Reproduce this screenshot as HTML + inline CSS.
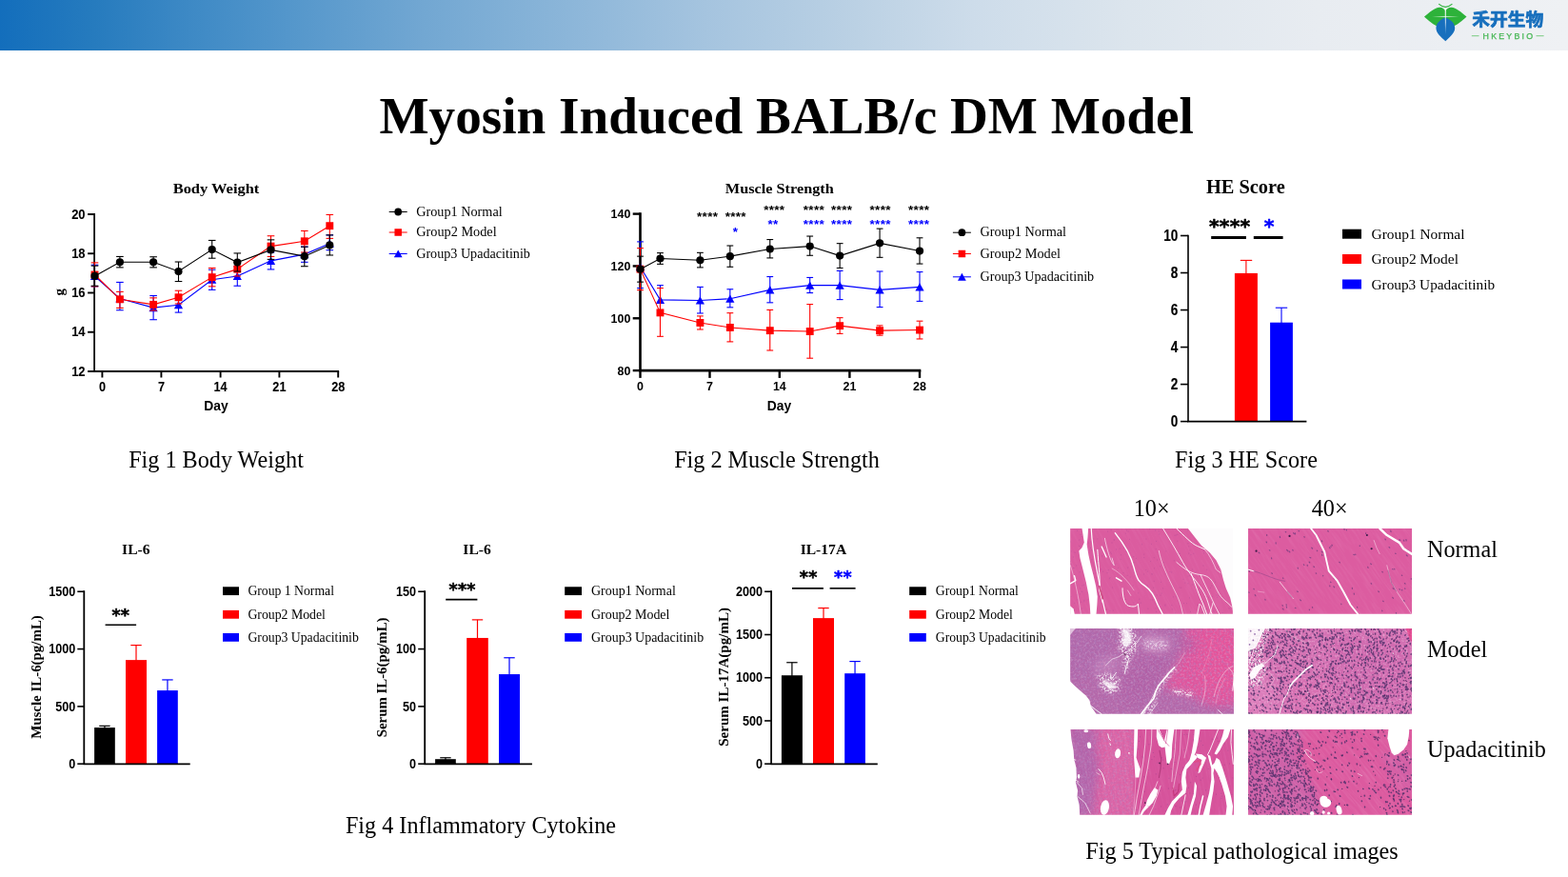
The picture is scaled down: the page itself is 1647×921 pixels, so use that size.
<!DOCTYPE html>
<html lang="en"><head><meta charset="utf-8"><title>Myosin Induced BALB/c DM Model</title>
<style>
html,body{margin:0;padding:0;background:#fff;}
body{width:1647px;height:921px;position:relative;overflow:hidden;font-family:"Liberation Serif","Noto Serif CJK SC",serif;color:#000;}
.hdr{position:absolute;left:0;top:0;width:1647px;height:53px;background:linear-gradient(90deg,#136ebc 0%,#267bbe 6%,#3d89c5 12%,#5396cb 18.2%,#72a7d2 27%,#8cb6d9 36.4%,#a5c4df 45%,#bbd1e4 54.6%,#cddcea 62%,#dce5ed 72%,#e8ecf1 84%,#eff1f4 100%);}
.title{position:absolute;left:0;top:90px;width:1652.4px;text-align:center;font-weight:bold;font-size:55.2px;line-height:64px;white-space:nowrap;}
.cap{position:absolute;font-size:24.2px;line-height:28px;white-space:nowrap;transform:translateX(-50%);}
.lab{position:absolute;font-size:24.2px;line-height:28px;white-space:nowrap;}
svg{position:absolute;left:0;top:0;}
.fs{font-family:"Liberation Serif","Noto Serif CJK SC",serif;}
.fa{font-family:"Liberation Sans","Noto Sans CJK SC",sans-serif;}
.fd{font-family:"DejaVu Sans","Liberation Sans",sans-serif;}
</style></head>
<body>
<div class="hdr"></div>
<div class="title">Myosin Induced BALB/c DM Model</div>
<svg width="1647" height="921" viewBox="0 0 1647 921">
<g>
<path d="M1496 17.6 C1502 12.5 1507 8.2 1512 7.8 C1515.2 7.6 1517 9.5 1518.3 11.5 C1519.6 9.5 1521.4 7.6 1524.6 7.8 C1529.5 8.2 1534.5 12.5 1540.5 17.6 C1535.5 22 1531 26 1527.5 27.2 L1509 27.2 C1505.5 26 1501 22 1496 17.6Z" fill="#2db23a"/>
<path d="M1518.3 18.5 C1524 20.5 1528.2 24.5 1528.2 29.5 C1528.2 34.5 1523 39 1518.3 43.2 C1513.6 39 1508.4 34.5 1508.4 29.5 C1508.4 24.5 1512.6 20.5 1518.3 18.5Z" fill="#176fbd"/>
<path d="M1511.2 4.2 Q1518.3 10.6 1525.4 4.2" fill="none" stroke="#2db23a" stroke-width="1.1"/>
<defs><linearGradient id="lgv" x1="0" y1="0" x2="0" y2="1"><stop offset="0" stop-color="#fff" stop-opacity="1"/><stop offset="0.55" stop-color="#fff" stop-opacity="0.85"/><stop offset="1" stop-color="#fff" stop-opacity="0"/></linearGradient>
<radialGradient id="lgh" cx="0.5" cy="0.5" r="0.5"><stop offset="0" stop-color="#fff" stop-opacity="0.85"/><stop offset="1" stop-color="#fff" stop-opacity="0"/></radialGradient></defs>
<path d="M1517.7 8.5 L1518.9 8.5 L1518.6 36 L1518 36Z" fill="url(#lgv)"/>
<ellipse cx="1518.3" cy="17.3" rx="15" ry="0.9" fill="url(#lgh)"/>
<text x="1546.2" y="27.2" font-size="18.6" font-weight="bold" fill="#176fbd" stroke="#176fbd" stroke-width="0.7" stroke-linejoin="round" textLength="75" lengthAdjust="spacingAndGlyphs" style="font-family:'Liberation Sans','Noto Sans CJK SC',sans-serif">禾开生物</text>
<text x="1583.8" y="40.9" font-size="8.8" fill="#45b653" stroke="#45b653" stroke-width="0.25" text-anchor="middle" textLength="52.5" lengthAdjust="spacing" style="font-family:'Liberation Sans','Noto Sans CJK SC',sans-serif">HKEYBIO</text>
<path d="M1545.8 37.7 H1553.5 M1613.5 37.7 H1621.6" stroke="#6cc774" stroke-width="0.9"/>
</g>
<text class="fs" x="227.0" y="202.6" font-size="15.6" text-anchor="middle" font-weight="bold" fill="#000" textLength="90.6" lengthAdjust="spacingAndGlyphs">Body Weight</text>
<path d="M99.1 225.0V390.0H355.2" fill="none" stroke="#000" stroke-width="1.8" stroke-linecap="square"/>
<line x1="92.10" y1="225.00" x2="99.10" y2="225.00" stroke="#000" stroke-width="1.9"/>
<text class="fa" transform="translate(89.6,229.5) scale(0.89,1)" font-size="14.6" text-anchor="end" font-weight="bold" stroke="#000" stroke-width="0.06">20</text>
<line x1="92.10" y1="266.25" x2="99.10" y2="266.25" stroke="#000" stroke-width="1.9"/>
<text class="fa" transform="translate(89.6,270.8) scale(0.89,1)" font-size="14.6" text-anchor="end" font-weight="bold" stroke="#000" stroke-width="0.06">18</text>
<line x1="92.10" y1="307.50" x2="99.10" y2="307.50" stroke="#000" stroke-width="1.9"/>
<text class="fa" transform="translate(89.6,312.0) scale(0.89,1)" font-size="14.6" text-anchor="end" font-weight="bold" stroke="#000" stroke-width="0.06">16</text>
<line x1="92.10" y1="348.75" x2="99.10" y2="348.75" stroke="#000" stroke-width="1.9"/>
<text class="fa" transform="translate(89.6,353.2) scale(0.89,1)" font-size="14.6" text-anchor="end" font-weight="bold" stroke="#000" stroke-width="0.06">14</text>
<line x1="92.10" y1="390.00" x2="99.10" y2="390.00" stroke="#000" stroke-width="1.9"/>
<text class="fa" transform="translate(89.6,394.5) scale(0.89,1)" font-size="14.6" text-anchor="end" font-weight="bold" stroke="#000" stroke-width="0.06">12</text>
<line x1="107.40" y1="390.00" x2="107.40" y2="396.50" stroke="#000" stroke-width="1.9"/>
<text class="fa" transform="translate(107.4,410.6) scale(0.87,1)" font-size="14.6" text-anchor="middle" font-weight="bold" stroke="#000" stroke-width="0.08">0</text>
<line x1="169.40" y1="390.00" x2="169.40" y2="396.50" stroke="#000" stroke-width="1.9"/>
<text class="fa" transform="translate(169.4,410.6) scale(0.87,1)" font-size="14.6" text-anchor="middle" font-weight="bold" stroke="#000" stroke-width="0.08">7</text>
<line x1="231.60" y1="390.00" x2="231.60" y2="396.50" stroke="#000" stroke-width="1.9"/>
<text class="fa" transform="translate(231.6,410.6) scale(0.87,1)" font-size="14.6" text-anchor="middle" font-weight="bold" stroke="#000" stroke-width="0.08">14</text>
<line x1="293.40" y1="390.00" x2="293.40" y2="396.50" stroke="#000" stroke-width="1.9"/>
<text class="fa" transform="translate(293.4,410.6) scale(0.87,1)" font-size="14.6" text-anchor="middle" font-weight="bold" stroke="#000" stroke-width="0.08">21</text>
<line x1="355.20" y1="390.00" x2="355.20" y2="396.50" stroke="#000" stroke-width="1.9"/>
<text class="fa" transform="translate(355.2,410.6) scale(0.87,1)" font-size="14.6" text-anchor="middle" font-weight="bold" stroke="#000" stroke-width="0.08">28</text>
<text class="fa" x="227.0" y="430.6" font-size="13.8" text-anchor="middle" font-weight="bold" fill="#000">Day</text>
<text class="fs" x="0.0" y="0.0" font-size="15" text-anchor="middle" font-weight="bold" fill="#000" transform="translate(66.5,306.8) rotate(-90)">g</text>
<line x1="99.50" y1="278.24" x2="99.50" y2="300.82" stroke="#0000ff" stroke-width="1.1"/>
<line x1="95.70" y1="278.24" x2="103.30" y2="278.24" stroke="#0000ff" stroke-width="1.1"/>
<line x1="95.70" y1="300.82" x2="103.30" y2="300.82" stroke="#0000ff" stroke-width="1.1"/>
<line x1="125.90" y1="296.42" x2="125.90" y2="325.75" stroke="#0000ff" stroke-width="1.1"/>
<line x1="122.10" y1="296.42" x2="129.70" y2="296.42" stroke="#0000ff" stroke-width="1.1"/>
<line x1="122.10" y1="325.75" x2="129.70" y2="325.75" stroke="#0000ff" stroke-width="1.1"/>
<line x1="161.10" y1="310.50" x2="161.10" y2="335.72" stroke="#0000ff" stroke-width="1.1"/>
<line x1="157.30" y1="310.50" x2="164.90" y2="310.50" stroke="#0000ff" stroke-width="1.1"/>
<line x1="157.30" y1="335.72" x2="164.90" y2="335.72" stroke="#0000ff" stroke-width="1.1"/>
<line x1="187.50" y1="313.43" x2="187.50" y2="328.09" stroke="#0000ff" stroke-width="1.1"/>
<line x1="183.70" y1="313.43" x2="191.30" y2="313.43" stroke="#0000ff" stroke-width="1.1"/>
<line x1="183.70" y1="328.09" x2="191.30" y2="328.09" stroke="#0000ff" stroke-width="1.1"/>
<line x1="222.70" y1="283.23" x2="222.70" y2="304.34" stroke="#0000ff" stroke-width="1.1"/>
<line x1="218.90" y1="283.23" x2="226.50" y2="283.23" stroke="#0000ff" stroke-width="1.1"/>
<line x1="218.90" y1="304.34" x2="226.50" y2="304.34" stroke="#0000ff" stroke-width="1.1"/>
<line x1="249.30" y1="279.71" x2="249.30" y2="300.23" stroke="#0000ff" stroke-width="1.1"/>
<line x1="245.50" y1="279.71" x2="253.10" y2="279.71" stroke="#0000ff" stroke-width="1.1"/>
<line x1="245.50" y1="300.23" x2="253.10" y2="300.23" stroke="#0000ff" stroke-width="1.1"/>
<line x1="284.50" y1="265.04" x2="284.50" y2="282.93" stroke="#0000ff" stroke-width="1.1"/>
<line x1="280.70" y1="265.04" x2="288.30" y2="265.04" stroke="#0000ff" stroke-width="1.1"/>
<line x1="280.70" y1="282.93" x2="288.30" y2="282.93" stroke="#0000ff" stroke-width="1.1"/>
<line x1="319.80" y1="259.18" x2="319.80" y2="275.31" stroke="#0000ff" stroke-width="1.1"/>
<line x1="316.00" y1="259.18" x2="323.60" y2="259.18" stroke="#0000ff" stroke-width="1.1"/>
<line x1="316.00" y1="275.31" x2="323.60" y2="275.31" stroke="#0000ff" stroke-width="1.1"/>
<line x1="346.30" y1="246.86" x2="346.30" y2="262.70" stroke="#0000ff" stroke-width="1.1"/>
<line x1="342.50" y1="246.86" x2="350.10" y2="246.86" stroke="#0000ff" stroke-width="1.1"/>
<line x1="342.50" y1="262.70" x2="350.10" y2="262.70" stroke="#0000ff" stroke-width="1.1"/>
<polyline points="99.50,289.97 125.90,313.43 161.10,323.11 187.50,320.18 222.70,293.78 249.30,289.97 284.50,273.84 319.80,267.10 346.30,255.66" fill="none" stroke="#0000ff" stroke-width="1.1"/>
<path d="M99.50 285.74L104.10 294.02L94.90 294.02Z" fill="#0000ff"/>
<path d="M125.90 309.20L130.50 317.48L121.30 317.48Z" fill="#0000ff"/>
<path d="M161.10 318.88L165.70 327.16L156.50 327.16Z" fill="#0000ff"/>
<path d="M187.50 315.94L192.10 324.22L182.90 324.22Z" fill="#0000ff"/>
<path d="M222.70 289.55L227.30 297.83L218.10 297.83Z" fill="#0000ff"/>
<path d="M249.30 285.74L253.90 294.02L244.70 294.02Z" fill="#0000ff"/>
<path d="M284.50 269.61L289.10 277.89L279.90 277.89Z" fill="#0000ff"/>
<path d="M319.80 262.86L324.40 271.14L315.20 271.14Z" fill="#0000ff"/>
<path d="M346.30 251.43L350.90 259.71L341.70 259.71Z" fill="#0000ff"/>
<line x1="99.50" y1="275.89" x2="99.50" y2="300.82" stroke="#ff0000" stroke-width="1.1"/>
<line x1="95.70" y1="275.89" x2="103.30" y2="275.89" stroke="#ff0000" stroke-width="1.1"/>
<line x1="95.70" y1="300.82" x2="103.30" y2="300.82" stroke="#ff0000" stroke-width="1.1"/>
<line x1="125.90" y1="306.39" x2="125.90" y2="323.40" stroke="#ff0000" stroke-width="1.1"/>
<line x1="122.10" y1="306.39" x2="129.70" y2="306.39" stroke="#ff0000" stroke-width="1.1"/>
<line x1="122.10" y1="323.40" x2="129.70" y2="323.40" stroke="#ff0000" stroke-width="1.1"/>
<line x1="161.10" y1="312.84" x2="161.10" y2="326.04" stroke="#ff0000" stroke-width="1.1"/>
<line x1="157.30" y1="312.84" x2="164.90" y2="312.84" stroke="#ff0000" stroke-width="1.1"/>
<line x1="157.30" y1="326.04" x2="164.90" y2="326.04" stroke="#ff0000" stroke-width="1.1"/>
<line x1="187.50" y1="305.22" x2="187.50" y2="319.00" stroke="#ff0000" stroke-width="1.1"/>
<line x1="183.70" y1="305.22" x2="191.30" y2="305.22" stroke="#ff0000" stroke-width="1.1"/>
<line x1="183.70" y1="319.00" x2="191.30" y2="319.00" stroke="#ff0000" stroke-width="1.1"/>
<line x1="222.70" y1="281.47" x2="222.70" y2="300.82" stroke="#ff0000" stroke-width="1.1"/>
<line x1="218.90" y1="281.47" x2="226.50" y2="281.47" stroke="#ff0000" stroke-width="1.1"/>
<line x1="218.90" y1="300.82" x2="226.50" y2="300.82" stroke="#ff0000" stroke-width="1.1"/>
<line x1="249.30" y1="275.31" x2="249.30" y2="289.97" stroke="#ff0000" stroke-width="1.1"/>
<line x1="245.50" y1="275.31" x2="253.10" y2="275.31" stroke="#ff0000" stroke-width="1.1"/>
<line x1="245.50" y1="289.97" x2="253.10" y2="289.97" stroke="#ff0000" stroke-width="1.1"/>
<line x1="284.50" y1="247.74" x2="284.50" y2="269.44" stroke="#ff0000" stroke-width="1.1"/>
<line x1="280.70" y1="247.74" x2="288.30" y2="247.74" stroke="#ff0000" stroke-width="1.1"/>
<line x1="280.70" y1="269.44" x2="288.30" y2="269.44" stroke="#ff0000" stroke-width="1.1"/>
<line x1="319.80" y1="242.46" x2="319.80" y2="265.04" stroke="#ff0000" stroke-width="1.1"/>
<line x1="316.00" y1="242.46" x2="323.60" y2="242.46" stroke="#ff0000" stroke-width="1.1"/>
<line x1="316.00" y1="265.04" x2="323.60" y2="265.04" stroke="#ff0000" stroke-width="1.1"/>
<line x1="346.30" y1="225.45" x2="346.30" y2="250.38" stroke="#ff0000" stroke-width="1.1"/>
<line x1="342.50" y1="225.45" x2="350.10" y2="225.45" stroke="#ff0000" stroke-width="1.1"/>
<line x1="342.50" y1="250.38" x2="350.10" y2="250.38" stroke="#ff0000" stroke-width="1.1"/>
<polyline points="99.50,288.50 125.90,314.31 161.10,319.88 187.50,312.26 222.70,291.14 249.30,282.64 284.50,258.59 319.80,253.31 346.30,237.18" fill="none" stroke="#ff0000" stroke-width="1.1"/>
<rect x="95.55" y="284.55" width="7.90" height="7.90" fill="#ff0000"/>
<rect x="121.95" y="310.36" width="7.90" height="7.90" fill="#ff0000"/>
<rect x="157.15" y="315.93" width="7.90" height="7.90" fill="#ff0000"/>
<rect x="183.55" y="308.31" width="7.90" height="7.90" fill="#ff0000"/>
<rect x="218.75" y="287.19" width="7.90" height="7.90" fill="#ff0000"/>
<rect x="245.35" y="278.69" width="7.90" height="7.90" fill="#ff0000"/>
<rect x="280.55" y="254.64" width="7.90" height="7.90" fill="#ff0000"/>
<rect x="315.85" y="249.36" width="7.90" height="7.90" fill="#ff0000"/>
<rect x="342.35" y="233.23" width="7.90" height="7.90" fill="#ff0000"/>
<line x1="99.50" y1="279.12" x2="99.50" y2="300.23" stroke="#000" stroke-width="1.1"/>
<line x1="95.70" y1="279.12" x2="103.30" y2="279.12" stroke="#000" stroke-width="1.1"/>
<line x1="95.70" y1="300.23" x2="103.30" y2="300.23" stroke="#000" stroke-width="1.1"/>
<line x1="125.90" y1="269.44" x2="125.90" y2="280.88" stroke="#000" stroke-width="1.1"/>
<line x1="122.10" y1="269.44" x2="129.70" y2="269.44" stroke="#000" stroke-width="1.1"/>
<line x1="122.10" y1="280.88" x2="129.70" y2="280.88" stroke="#000" stroke-width="1.1"/>
<line x1="161.10" y1="269.74" x2="161.10" y2="280.88" stroke="#000" stroke-width="1.1"/>
<line x1="157.30" y1="269.74" x2="164.90" y2="269.74" stroke="#000" stroke-width="1.1"/>
<line x1="157.30" y1="280.88" x2="164.90" y2="280.88" stroke="#000" stroke-width="1.1"/>
<line x1="187.50" y1="275.01" x2="187.50" y2="295.54" stroke="#000" stroke-width="1.1"/>
<line x1="183.70" y1="275.01" x2="191.30" y2="275.01" stroke="#000" stroke-width="1.1"/>
<line x1="183.70" y1="295.54" x2="191.30" y2="295.54" stroke="#000" stroke-width="1.1"/>
<line x1="222.70" y1="252.43" x2="222.70" y2="271.20" stroke="#000" stroke-width="1.1"/>
<line x1="218.90" y1="252.43" x2="226.50" y2="252.43" stroke="#000" stroke-width="1.1"/>
<line x1="218.90" y1="271.20" x2="226.50" y2="271.20" stroke="#000" stroke-width="1.1"/>
<line x1="249.30" y1="265.92" x2="249.30" y2="284.99" stroke="#000" stroke-width="1.1"/>
<line x1="245.50" y1="265.92" x2="253.10" y2="265.92" stroke="#000" stroke-width="1.1"/>
<line x1="245.50" y1="284.99" x2="253.10" y2="284.99" stroke="#000" stroke-width="1.1"/>
<line x1="284.50" y1="251.85" x2="284.50" y2="272.38" stroke="#000" stroke-width="1.1"/>
<line x1="280.70" y1="251.85" x2="288.30" y2="251.85" stroke="#000" stroke-width="1.1"/>
<line x1="280.70" y1="272.38" x2="288.30" y2="272.38" stroke="#000" stroke-width="1.1"/>
<line x1="319.80" y1="259.18" x2="319.80" y2="279.71" stroke="#000" stroke-width="1.1"/>
<line x1="316.00" y1="259.18" x2="323.60" y2="259.18" stroke="#000" stroke-width="1.1"/>
<line x1="316.00" y1="279.71" x2="323.60" y2="279.71" stroke="#000" stroke-width="1.1"/>
<line x1="346.30" y1="246.86" x2="346.30" y2="267.98" stroke="#000" stroke-width="1.1"/>
<line x1="342.50" y1="246.86" x2="350.10" y2="246.86" stroke="#000" stroke-width="1.1"/>
<line x1="342.50" y1="267.98" x2="350.10" y2="267.98" stroke="#000" stroke-width="1.1"/>
<polyline points="99.50,289.97 125.90,275.31 161.10,275.31 187.50,284.99 222.70,262.11 249.30,275.60 284.50,262.40 319.80,269.15 346.30,257.42" fill="none" stroke="#000" stroke-width="1.1"/>
<circle cx="99.50" cy="289.97" r="4.10" fill="#000"/>
<circle cx="125.90" cy="275.31" r="4.10" fill="#000"/>
<circle cx="161.10" cy="275.31" r="4.10" fill="#000"/>
<circle cx="187.50" cy="284.99" r="4.10" fill="#000"/>
<circle cx="222.70" cy="262.11" r="4.10" fill="#000"/>
<circle cx="249.30" cy="275.60" r="4.10" fill="#000"/>
<circle cx="284.50" cy="262.40" r="4.10" fill="#000"/>
<circle cx="319.80" cy="269.15" r="4.10" fill="#000"/>
<circle cx="346.30" cy="257.42" r="4.10" fill="#000"/>
<line x1="408.70" y1="222.50" x2="427.70" y2="222.50" stroke="#000" stroke-width="1.0"/>
<circle cx="418.20" cy="222.50" r="3.89" fill="#000"/>
<text class="fs" x="437.2" y="226.7" font-size="14.1" text-anchor="start" fill="#000" textLength="90.5" lengthAdjust="spacingAndGlyphs">Group1 Normal</text>
<line x1="408.70" y1="244.00" x2="427.70" y2="244.00" stroke="#ff0000" stroke-width="1.0"/>
<rect x="414.45" y="240.25" width="7.50" height="7.50" fill="#ff0000"/>
<text class="fs" x="437.2" y="248.2" font-size="14.1" text-anchor="start" fill="#000" textLength="84.5" lengthAdjust="spacingAndGlyphs">Group2 Model</text>
<line x1="408.70" y1="266.50" x2="427.70" y2="266.50" stroke="#0000ff" stroke-width="1.0"/>
<path d="M418.20 262.48L422.57 270.35L413.83 270.35Z" fill="#0000ff"/>
<text class="fs" x="437.2" y="270.7" font-size="14.1" text-anchor="start" fill="#000" textLength="119.7" lengthAdjust="spacingAndGlyphs">Group3 Upadacitinib</text>
<text class="fs" x="818.8" y="202.7" font-size="15.6" text-anchor="middle" font-weight="bold" fill="#000" textLength="114.0" lengthAdjust="spacingAndGlyphs">Muscle Strength</text>
<path d="M672.5 224.6V389.1H966" fill="none" stroke="#000" stroke-width="2.6" stroke-linecap="square"/>
<line x1="664.70" y1="224.60" x2="672.50" y2="224.60" stroke="#000" stroke-width="2.4"/>
<text class="fa" transform="translate(662.3,229.2) scale(0.93,1)" font-size="13.4" text-anchor="end" font-weight="bold">140</text>
<line x1="664.70" y1="279.43" x2="672.50" y2="279.43" stroke="#000" stroke-width="2.4"/>
<text class="fa" transform="translate(662.3,284.0) scale(0.93,1)" font-size="13.4" text-anchor="end" font-weight="bold">120</text>
<line x1="664.70" y1="334.27" x2="672.50" y2="334.27" stroke="#000" stroke-width="2.4"/>
<text class="fa" transform="translate(662.3,338.9) scale(0.93,1)" font-size="13.4" text-anchor="end" font-weight="bold">100</text>
<line x1="664.70" y1="389.10" x2="672.50" y2="389.10" stroke="#000" stroke-width="2.4"/>
<text class="fa" transform="translate(662.3,393.7) scale(0.93,1)" font-size="13.4" text-anchor="end" font-weight="bold">80</text>
<line x1="672.50" y1="389.10" x2="672.50" y2="396.90" stroke="#000" stroke-width="2.4"/>
<text class="fa" transform="translate(672.5,410.4) scale(0.93,1)" font-size="13.4" text-anchor="middle" font-weight="bold">0</text>
<line x1="745.50" y1="389.10" x2="745.50" y2="396.90" stroke="#000" stroke-width="2.4"/>
<text class="fa" transform="translate(745.5,410.4) scale(0.93,1)" font-size="13.4" text-anchor="middle" font-weight="bold">7</text>
<line x1="818.80" y1="389.10" x2="818.80" y2="396.90" stroke="#000" stroke-width="2.4"/>
<text class="fa" transform="translate(818.8,410.4) scale(0.93,1)" font-size="13.4" text-anchor="middle" font-weight="bold">14</text>
<line x1="892.40" y1="389.10" x2="892.40" y2="396.90" stroke="#000" stroke-width="2.4"/>
<text class="fa" transform="translate(892.4,410.4) scale(0.93,1)" font-size="13.4" text-anchor="middle" font-weight="bold">21</text>
<line x1="966.00" y1="389.10" x2="966.00" y2="396.90" stroke="#000" stroke-width="2.4"/>
<text class="fa" transform="translate(966.0,410.4) scale(0.93,1)" font-size="13.4" text-anchor="middle" font-weight="bold">28</text>
<text class="fa" x="818.5" y="430.6" font-size="13.8" text-anchor="middle" font-weight="bold" fill="#000">Day</text>
<line x1="672.50" y1="253.90" x2="672.50" y2="302.58" stroke="#0000ff" stroke-width="1.1"/>
<line x1="669.10" y1="253.90" x2="675.90" y2="253.90" stroke="#0000ff" stroke-width="1.1"/>
<line x1="669.10" y1="302.58" x2="675.90" y2="302.58" stroke="#0000ff" stroke-width="1.1"/>
<line x1="693.46" y1="299.65" x2="693.46" y2="330.15" stroke="#0000ff" stroke-width="1.1"/>
<line x1="690.06" y1="299.65" x2="696.86" y2="299.65" stroke="#0000ff" stroke-width="1.1"/>
<line x1="690.06" y1="330.15" x2="696.86" y2="330.15" stroke="#0000ff" stroke-width="1.1"/>
<line x1="735.39" y1="301.41" x2="735.39" y2="328.97" stroke="#0000ff" stroke-width="1.1"/>
<line x1="731.99" y1="301.41" x2="738.79" y2="301.41" stroke="#0000ff" stroke-width="1.1"/>
<line x1="731.99" y1="328.97" x2="738.79" y2="328.97" stroke="#0000ff" stroke-width="1.1"/>
<line x1="766.84" y1="303.75" x2="766.84" y2="322.82" stroke="#0000ff" stroke-width="1.1"/>
<line x1="763.44" y1="303.75" x2="770.24" y2="303.75" stroke="#0000ff" stroke-width="1.1"/>
<line x1="763.44" y1="322.82" x2="770.24" y2="322.82" stroke="#0000ff" stroke-width="1.1"/>
<line x1="808.77" y1="290.56" x2="808.77" y2="317.83" stroke="#0000ff" stroke-width="1.1"/>
<line x1="805.37" y1="290.56" x2="812.17" y2="290.56" stroke="#0000ff" stroke-width="1.1"/>
<line x1="805.37" y1="317.83" x2="812.17" y2="317.83" stroke="#0000ff" stroke-width="1.1"/>
<line x1="850.70" y1="291.44" x2="850.70" y2="307.57" stroke="#0000ff" stroke-width="1.1"/>
<line x1="847.30" y1="291.44" x2="854.10" y2="291.44" stroke="#0000ff" stroke-width="1.1"/>
<line x1="847.30" y1="307.57" x2="854.10" y2="307.57" stroke="#0000ff" stroke-width="1.1"/>
<line x1="882.14" y1="284.40" x2="882.14" y2="314.60" stroke="#0000ff" stroke-width="1.1"/>
<line x1="878.74" y1="284.40" x2="885.54" y2="284.40" stroke="#0000ff" stroke-width="1.1"/>
<line x1="878.74" y1="314.60" x2="885.54" y2="314.60" stroke="#0000ff" stroke-width="1.1"/>
<line x1="924.07" y1="284.99" x2="924.07" y2="322.52" stroke="#0000ff" stroke-width="1.1"/>
<line x1="920.67" y1="284.99" x2="927.47" y2="284.99" stroke="#0000ff" stroke-width="1.1"/>
<line x1="920.67" y1="322.52" x2="927.47" y2="322.52" stroke="#0000ff" stroke-width="1.1"/>
<line x1="966.00" y1="285.57" x2="966.00" y2="316.36" stroke="#0000ff" stroke-width="1.1"/>
<line x1="962.60" y1="285.57" x2="969.40" y2="285.57" stroke="#0000ff" stroke-width="1.1"/>
<line x1="962.60" y1="316.36" x2="969.40" y2="316.36" stroke="#0000ff" stroke-width="1.1"/>
<polyline points="672.50,280.29 693.46,314.90 735.39,315.48 766.84,313.72 808.77,304.34 850.70,299.65 882.14,299.65 924.07,304.34 966.00,301.41" fill="none" stroke="#0000ff" stroke-width="1.1"/>
<path d="M672.50 276.06L677.10 284.34L667.90 284.34Z" fill="#0000ff"/>
<path d="M693.46 310.67L698.06 318.95L688.86 318.95Z" fill="#0000ff"/>
<path d="M735.39 311.25L739.99 319.53L730.79 319.53Z" fill="#0000ff"/>
<path d="M766.84 309.49L771.44 317.77L762.24 317.77Z" fill="#0000ff"/>
<path d="M808.77 300.11L813.37 308.39L804.17 308.39Z" fill="#0000ff"/>
<path d="M850.70 295.42L855.30 303.70L846.10 303.70Z" fill="#0000ff"/>
<path d="M882.14 295.42L886.74 303.70L877.54 303.70Z" fill="#0000ff"/>
<path d="M924.07 300.11L928.67 308.39L919.47 308.39Z" fill="#0000ff"/>
<path d="M966.00 297.18L970.60 305.46L961.40 305.46Z" fill="#0000ff"/>
<line x1="672.50" y1="260.65" x2="672.50" y2="304.63" stroke="#ff0000" stroke-width="1.1"/>
<line x1="669.10" y1="260.65" x2="675.90" y2="260.65" stroke="#ff0000" stroke-width="1.1"/>
<line x1="669.10" y1="304.63" x2="675.90" y2="304.63" stroke="#ff0000" stroke-width="1.1"/>
<line x1="693.46" y1="302.58" x2="693.46" y2="353.31" stroke="#ff0000" stroke-width="1.1"/>
<line x1="690.06" y1="302.58" x2="696.86" y2="302.58" stroke="#ff0000" stroke-width="1.1"/>
<line x1="690.06" y1="353.31" x2="696.86" y2="353.31" stroke="#ff0000" stroke-width="1.1"/>
<line x1="735.39" y1="331.91" x2="735.39" y2="345.98" stroke="#ff0000" stroke-width="1.1"/>
<line x1="731.99" y1="331.91" x2="738.79" y2="331.91" stroke="#ff0000" stroke-width="1.1"/>
<line x1="731.99" y1="345.98" x2="738.79" y2="345.98" stroke="#ff0000" stroke-width="1.1"/>
<line x1="766.84" y1="328.68" x2="766.84" y2="358.89" stroke="#ff0000" stroke-width="1.1"/>
<line x1="763.44" y1="328.68" x2="770.24" y2="328.68" stroke="#ff0000" stroke-width="1.1"/>
<line x1="763.44" y1="358.89" x2="770.24" y2="358.89" stroke="#ff0000" stroke-width="1.1"/>
<line x1="808.77" y1="325.45" x2="808.77" y2="367.98" stroke="#ff0000" stroke-width="1.1"/>
<line x1="805.37" y1="325.45" x2="812.17" y2="325.45" stroke="#ff0000" stroke-width="1.1"/>
<line x1="805.37" y1="367.98" x2="812.17" y2="367.98" stroke="#ff0000" stroke-width="1.1"/>
<line x1="850.70" y1="319.59" x2="850.70" y2="376.19" stroke="#ff0000" stroke-width="1.1"/>
<line x1="847.30" y1="319.59" x2="854.10" y2="319.59" stroke="#ff0000" stroke-width="1.1"/>
<line x1="847.30" y1="376.19" x2="854.10" y2="376.19" stroke="#ff0000" stroke-width="1.1"/>
<line x1="882.14" y1="333.67" x2="882.14" y2="350.38" stroke="#ff0000" stroke-width="1.1"/>
<line x1="878.74" y1="333.67" x2="885.54" y2="333.67" stroke="#ff0000" stroke-width="1.1"/>
<line x1="878.74" y1="350.38" x2="885.54" y2="350.38" stroke="#ff0000" stroke-width="1.1"/>
<line x1="924.07" y1="341.88" x2="924.07" y2="352.14" stroke="#ff0000" stroke-width="1.1"/>
<line x1="920.67" y1="341.88" x2="927.47" y2="341.88" stroke="#ff0000" stroke-width="1.1"/>
<line x1="920.67" y1="352.14" x2="927.47" y2="352.14" stroke="#ff0000" stroke-width="1.1"/>
<line x1="966.00" y1="337.18" x2="966.00" y2="355.95" stroke="#ff0000" stroke-width="1.1"/>
<line x1="962.60" y1="337.18" x2="969.40" y2="337.18" stroke="#ff0000" stroke-width="1.1"/>
<line x1="962.60" y1="355.95" x2="969.40" y2="355.95" stroke="#ff0000" stroke-width="1.1"/>
<polyline points="672.50,282.64 693.46,328.39 735.39,338.94 766.84,343.93 808.77,347.16 850.70,348.04 882.14,342.17 924.07,347.16 966.00,346.57" fill="none" stroke="#ff0000" stroke-width="1.1"/>
<rect x="668.55" y="278.69" width="7.90" height="7.90" fill="#ff0000"/>
<rect x="689.51" y="324.44" width="7.90" height="7.90" fill="#ff0000"/>
<rect x="731.44" y="334.99" width="7.90" height="7.90" fill="#ff0000"/>
<rect x="762.89" y="339.98" width="7.90" height="7.90" fill="#ff0000"/>
<rect x="804.82" y="343.21" width="7.90" height="7.90" fill="#ff0000"/>
<rect x="846.75" y="344.09" width="7.90" height="7.90" fill="#ff0000"/>
<rect x="878.19" y="338.22" width="7.90" height="7.90" fill="#ff0000"/>
<rect x="920.12" y="343.21" width="7.90" height="7.90" fill="#ff0000"/>
<rect x="962.05" y="342.62" width="7.90" height="7.90" fill="#ff0000"/>
<line x1="672.50" y1="269.15" x2="672.50" y2="296.13" stroke="#000" stroke-width="1.1"/>
<line x1="669.10" y1="269.15" x2="675.90" y2="269.15" stroke="#000" stroke-width="1.1"/>
<line x1="669.10" y1="296.13" x2="675.90" y2="296.13" stroke="#000" stroke-width="1.1"/>
<line x1="693.46" y1="265.63" x2="693.46" y2="277.36" stroke="#000" stroke-width="1.1"/>
<line x1="690.06" y1="265.63" x2="696.86" y2="265.63" stroke="#000" stroke-width="1.1"/>
<line x1="690.06" y1="277.36" x2="696.86" y2="277.36" stroke="#000" stroke-width="1.1"/>
<line x1="735.39" y1="265.34" x2="735.39" y2="280.88" stroke="#000" stroke-width="1.1"/>
<line x1="731.99" y1="265.34" x2="738.79" y2="265.34" stroke="#000" stroke-width="1.1"/>
<line x1="731.99" y1="280.88" x2="738.79" y2="280.88" stroke="#000" stroke-width="1.1"/>
<line x1="766.84" y1="258.01" x2="766.84" y2="280.29" stroke="#000" stroke-width="1.1"/>
<line x1="763.44" y1="258.01" x2="770.24" y2="258.01" stroke="#000" stroke-width="1.1"/>
<line x1="763.44" y1="280.29" x2="770.24" y2="280.29" stroke="#000" stroke-width="1.1"/>
<line x1="808.77" y1="251.55" x2="808.77" y2="270.91" stroke="#000" stroke-width="1.1"/>
<line x1="805.37" y1="251.55" x2="812.17" y2="251.55" stroke="#000" stroke-width="1.1"/>
<line x1="805.37" y1="270.91" x2="812.17" y2="270.91" stroke="#000" stroke-width="1.1"/>
<line x1="850.70" y1="248.04" x2="850.70" y2="268.27" stroke="#000" stroke-width="1.1"/>
<line x1="847.30" y1="248.04" x2="854.10" y2="248.04" stroke="#000" stroke-width="1.1"/>
<line x1="847.30" y1="268.27" x2="854.10" y2="268.27" stroke="#000" stroke-width="1.1"/>
<line x1="882.14" y1="255.66" x2="882.14" y2="281.47" stroke="#000" stroke-width="1.1"/>
<line x1="878.74" y1="255.66" x2="885.54" y2="255.66" stroke="#000" stroke-width="1.1"/>
<line x1="878.74" y1="281.47" x2="885.54" y2="281.47" stroke="#000" stroke-width="1.1"/>
<line x1="924.07" y1="240.12" x2="924.07" y2="270.32" stroke="#000" stroke-width="1.1"/>
<line x1="920.67" y1="240.12" x2="927.47" y2="240.12" stroke="#000" stroke-width="1.1"/>
<line x1="920.67" y1="270.32" x2="927.47" y2="270.32" stroke="#000" stroke-width="1.1"/>
<line x1="966.00" y1="249.79" x2="966.00" y2="277.07" stroke="#000" stroke-width="1.1"/>
<line x1="962.60" y1="249.79" x2="969.40" y2="249.79" stroke="#000" stroke-width="1.1"/>
<line x1="962.60" y1="277.07" x2="969.40" y2="277.07" stroke="#000" stroke-width="1.1"/>
<polyline points="672.50,282.64 693.46,271.50 735.39,273.26 766.84,269.15 808.77,261.52 850.70,258.59 882.14,268.56 924.07,255.37 966.00,263.58" fill="none" stroke="#000" stroke-width="1.1"/>
<circle cx="672.50" cy="282.64" r="4.10" fill="#000"/>
<circle cx="693.46" cy="271.50" r="4.10" fill="#000"/>
<circle cx="735.39" cy="273.26" r="4.10" fill="#000"/>
<circle cx="766.84" cy="269.15" r="4.10" fill="#000"/>
<circle cx="808.77" cy="261.52" r="4.10" fill="#000"/>
<circle cx="850.70" cy="258.59" r="4.10" fill="#000"/>
<circle cx="882.14" cy="268.56" r="4.10" fill="#000"/>
<circle cx="924.07" cy="255.37" r="4.10" fill="#000"/>
<circle cx="966.00" cy="263.58" r="4.10" fill="#000"/>
<text class="fa" x="743.2" y="231.5" font-size="13.4" text-anchor="middle" font-weight="bold" fill="#000" letter-spacing="0.35">****</text>
<text class="fa" x="772.8" y="231.5" font-size="13.4" text-anchor="middle" font-weight="bold" fill="#000" letter-spacing="0.35">****</text>
<text class="fa" x="813.3" y="224.8" font-size="13.4" text-anchor="middle" font-weight="bold" fill="#000" letter-spacing="0.35">****</text>
<text class="fa" x="854.9" y="224.8" font-size="13.4" text-anchor="middle" font-weight="bold" fill="#000" letter-spacing="0.35">****</text>
<text class="fa" x="884.2" y="224.8" font-size="13.4" text-anchor="middle" font-weight="bold" fill="#000" letter-spacing="0.35">****</text>
<text class="fa" x="924.7" y="224.8" font-size="13.4" text-anchor="middle" font-weight="bold" fill="#000" letter-spacing="0.35">****</text>
<text class="fa" x="965.2" y="224.8" font-size="13.4" text-anchor="middle" font-weight="bold" fill="#000" letter-spacing="0.35">****</text>
<text class="fa" x="772.5" y="247.5" font-size="13.4" text-anchor="middle" font-weight="bold" fill="#0000ff" letter-spacing="0.35">*</text>
<text class="fa" x="812.1" y="240.4" font-size="13.4" text-anchor="middle" font-weight="bold" fill="#0000ff" letter-spacing="0.35">**</text>
<text class="fa" x="854.9" y="240.4" font-size="13.4" text-anchor="middle" font-weight="bold" fill="#0000ff" letter-spacing="0.35">****</text>
<text class="fa" x="884.2" y="240.4" font-size="13.4" text-anchor="middle" font-weight="bold" fill="#0000ff" letter-spacing="0.35">****</text>
<text class="fa" x="924.7" y="240.4" font-size="13.4" text-anchor="middle" font-weight="bold" fill="#0000ff" letter-spacing="0.35">****</text>
<text class="fa" x="965.2" y="240.4" font-size="13.4" text-anchor="middle" font-weight="bold" fill="#0000ff" letter-spacing="0.35">****</text>
<line x1="1000.90" y1="244.20" x2="1019.90" y2="244.20" stroke="#000" stroke-width="1.0"/>
<circle cx="1010.40" cy="244.20" r="3.89" fill="#000"/>
<text class="fs" x="1029.5" y="248.4" font-size="14.1" text-anchor="start" fill="#000" textLength="90.5" lengthAdjust="spacingAndGlyphs">Group1 Normal</text>
<line x1="1000.90" y1="266.50" x2="1019.90" y2="266.50" stroke="#ff0000" stroke-width="1.0"/>
<rect x="1006.65" y="262.75" width="7.50" height="7.50" fill="#ff0000"/>
<text class="fs" x="1029.5" y="270.7" font-size="14.1" text-anchor="start" fill="#000" textLength="84.5" lengthAdjust="spacingAndGlyphs">Group2 Model</text>
<line x1="1000.90" y1="290.80" x2="1019.90" y2="290.80" stroke="#0000ff" stroke-width="1.0"/>
<path d="M1010.40 286.78L1014.77 294.65L1006.03 294.65Z" fill="#0000ff"/>
<text class="fs" x="1029.5" y="295.0" font-size="14.1" text-anchor="start" fill="#000" textLength="119.7" lengthAdjust="spacingAndGlyphs">Group3 Upadacitinib</text>
<text class="fs" x="1308.3" y="203.3" font-size="20.4" text-anchor="middle" font-weight="bold" fill="#000" textLength="82.8" lengthAdjust="spacingAndGlyphs">HE Score</text>
<line x1="1240.00" y1="247.50" x2="1248.00" y2="247.50" stroke="#000" stroke-width="1.6"/>
<text class="fa" transform="translate(1237.3,253.1) scale(0.81,1)" font-size="16.8" text-anchor="end" font-weight="bold" stroke="#000" stroke-width="0.16">10</text>
<line x1="1240.00" y1="286.52" x2="1248.00" y2="286.52" stroke="#000" stroke-width="1.6"/>
<text class="fa" transform="translate(1237.3,292.1) scale(0.81,1)" font-size="16.8" text-anchor="end" font-weight="bold" stroke="#000" stroke-width="0.16">8</text>
<line x1="1240.00" y1="325.54" x2="1248.00" y2="325.54" stroke="#000" stroke-width="1.6"/>
<text class="fa" transform="translate(1237.3,331.1) scale(0.81,1)" font-size="16.8" text-anchor="end" font-weight="bold" stroke="#000" stroke-width="0.16">6</text>
<line x1="1240.00" y1="364.56" x2="1248.00" y2="364.56" stroke="#000" stroke-width="1.6"/>
<text class="fa" transform="translate(1237.3,370.2) scale(0.81,1)" font-size="16.8" text-anchor="end" font-weight="bold" stroke="#000" stroke-width="0.16">4</text>
<line x1="1240.00" y1="403.58" x2="1248.00" y2="403.58" stroke="#000" stroke-width="1.6"/>
<text class="fa" transform="translate(1237.3,409.2) scale(0.81,1)" font-size="16.8" text-anchor="end" font-weight="bold" stroke="#000" stroke-width="0.16">2</text>
<line x1="1240.00" y1="442.60" x2="1248.00" y2="442.60" stroke="#000" stroke-width="1.6"/>
<text class="fa" transform="translate(1237.3,448.2) scale(0.81,1)" font-size="16.8" text-anchor="end" font-weight="bold" stroke="#000" stroke-width="0.16">0</text>
<line x1="1308.90" y1="273.40" x2="1308.90" y2="287.50" stroke="#ff0000" stroke-width="1.1"/>
<line x1="1302.80" y1="273.40" x2="1315.20" y2="273.40" stroke="#ff0000" stroke-width="1.1"/>
<line x1="1346.00" y1="323.20" x2="1346.00" y2="339.50" stroke="#0000ff" stroke-width="1.1"/>
<line x1="1339.80" y1="323.20" x2="1352.20" y2="323.20" stroke="#0000ff" stroke-width="1.1"/>
<rect x="1296.90" y="286.90" width="24.00" height="155.70" fill="#ff0000"/>
<rect x="1334.10" y="338.70" width="23.80" height="103.90" fill="#0000ff"/>
<path d="M1248 247.5V442.6H1371.6" fill="none" stroke="#000" stroke-width="1.6" stroke-linecap="square"/>
<line x1="1272.20" y1="249.50" x2="1308.90" y2="249.50" stroke="#000" stroke-width="3.0"/>
<line x1="1316.80" y1="249.50" x2="1347.60" y2="249.50" stroke="#000" stroke-width="3.0"/>
<text class="fd" x="1269.92" y="243.55" font-size="20.3" font-weight="bold" fill="#000" stroke="#000" stroke-width="0.61" stroke-linejoin="round" letter-spacing="0.3">****</text>
<text class="fd" x="1327.69" y="243.55" font-size="20.3" font-weight="bold" fill="#0000ff" stroke="#0000ff" stroke-width="0.61" stroke-linejoin="round" letter-spacing="0">*</text>
<rect x="1410.00" y="240.70" width="20.00" height="10.00" fill="#000"/>
<text class="fs" x="1440.5" y="250.7" font-size="15.3" text-anchor="start" fill="#000" textLength="98.0" lengthAdjust="spacingAndGlyphs">Group1 Normal</text>
<rect x="1410.00" y="267.00" width="20.00" height="10.00" fill="#ff0000"/>
<text class="fs" x="1440.5" y="277.0" font-size="15.3" text-anchor="start" fill="#000" textLength="91.5" lengthAdjust="spacingAndGlyphs">Group2 Model</text>
<rect x="1410.00" y="293.50" width="20.00" height="10.00" fill="#0000ff"/>
<text class="fs" x="1440.5" y="303.5" font-size="15.3" text-anchor="start" fill="#000" textLength="129.7" lengthAdjust="spacingAndGlyphs">Group3 Upadacitinib</text>
<text class="fs" x="142.8" y="582.0" font-size="15.6" text-anchor="middle" font-weight="bold" fill="#000">IL-6</text>
<line x1="81.30" y1="621.26" x2="88.30" y2="621.26" stroke="#000" stroke-width="1.6"/>
<text class="fa" transform="translate(79.2,626.0) scale(0.9,1)" font-size="14.0" text-anchor="end" font-weight="bold">1500</text>
<line x1="81.30" y1="681.57" x2="88.30" y2="681.57" stroke="#000" stroke-width="1.6"/>
<text class="fa" transform="translate(79.2,686.3) scale(0.9,1)" font-size="14.0" text-anchor="end" font-weight="bold">1000</text>
<line x1="81.30" y1="741.89" x2="88.30" y2="741.89" stroke="#000" stroke-width="1.6"/>
<text class="fa" transform="translate(79.2,746.6) scale(0.9,1)" font-size="14.0" text-anchor="end" font-weight="bold">500</text>
<line x1="81.30" y1="802.20" x2="88.30" y2="802.20" stroke="#000" stroke-width="1.6"/>
<text class="fa" transform="translate(79.2,806.9) scale(0.9,1)" font-size="14.0" text-anchor="end" font-weight="bold">0</text>
<line x1="109.95" y1="762.32" x2="109.95" y2="765.08" stroke="#000" stroke-width="1.2"/>
<line x1="104.25" y1="762.32" x2="115.65" y2="762.32" stroke="#000" stroke-width="1.2"/>
<rect x="99.10" y="764.08" width="21.70" height="38.12" fill="#000"/>
<line x1="143.00" y1="677.57" x2="143.00" y2="694.11" stroke="#ff0000" stroke-width="1.2"/>
<line x1="137.30" y1="677.57" x2="148.70" y2="677.57" stroke="#ff0000" stroke-width="1.2"/>
<rect x="132.00" y="693.11" width="22.00" height="109.09" fill="#ff0000"/>
<line x1="175.95" y1="713.93" x2="175.95" y2="726.07" stroke="#0000ff" stroke-width="1.2"/>
<line x1="170.25" y1="713.93" x2="181.65" y2="713.93" stroke="#0000ff" stroke-width="1.2"/>
<rect x="165.10" y="725.07" width="21.70" height="77.13" fill="#0000ff"/>
<path d="M88.3 621.2609970674487V802.3994134897362H198.8" fill="none" stroke="#000" stroke-width="1.8" stroke-linecap="square"/>
<line x1="110.60" y1="656.27" x2="143.10" y2="656.27" stroke="#000" stroke-width="1.6"/>
<text class="fd" x="117.40" y="651.56" font-size="17.5" font-weight="bold" fill="#000" stroke="#000" stroke-width="0.53" stroke-linejoin="round" letter-spacing="0.3">**</text>
<text class="fs" x="0.0" y="0.0" font-size="15.0" text-anchor="middle" font-weight="bold" fill="#000" textLength="129.6" lengthAdjust="spacingAndGlyphs" transform="translate(42.7,711.0) rotate(-90)">Muscle IL-6(pg/mL)</text>
<rect x="234.00" y="616.27" width="17.00" height="8.80" fill="#000"/>
<text class="fs" x="260.4" y="625.2" font-size="13.8" text-anchor="start" fill="#000" textLength="90.6" lengthAdjust="spacingAndGlyphs">Group 1 Normal</text>
<rect x="234.00" y="640.91" width="17.00" height="8.80" fill="#ff0000"/>
<text class="fs" x="260.4" y="649.9" font-size="13.8" text-anchor="start" fill="#000" textLength="81.5" lengthAdjust="spacingAndGlyphs">Group2 Model</text>
<rect x="234.00" y="664.95" width="17.00" height="8.80" fill="#0000ff"/>
<text class="fs" x="260.4" y="673.9" font-size="13.8" text-anchor="start" fill="#000" textLength="116.4" lengthAdjust="spacingAndGlyphs">Group3 Upadacitinib</text>
<text class="fs" x="501.1" y="582.0" font-size="15.6" text-anchor="middle" font-weight="bold" fill="#000">IL-6</text>
<line x1="439.20" y1="621.26" x2="446.20" y2="621.26" stroke="#000" stroke-width="1.6"/>
<text class="fa" transform="translate(436.9,626.0) scale(0.9,1)" font-size="14.0" text-anchor="end" font-weight="bold">150</text>
<line x1="439.20" y1="681.57" x2="446.20" y2="681.57" stroke="#000" stroke-width="1.6"/>
<text class="fa" transform="translate(436.9,686.3) scale(0.9,1)" font-size="14.0" text-anchor="end" font-weight="bold">100</text>
<line x1="439.20" y1="741.89" x2="446.20" y2="741.89" stroke="#000" stroke-width="1.6"/>
<text class="fa" transform="translate(436.9,746.6) scale(0.9,1)" font-size="14.0" text-anchor="end" font-weight="bold">50</text>
<line x1="439.20" y1="802.20" x2="446.20" y2="802.20" stroke="#000" stroke-width="1.6"/>
<text class="fa" transform="translate(436.9,806.9) scale(0.9,1)" font-size="14.0" text-anchor="end" font-weight="bold">0</text>
<line x1="467.95" y1="795.75" x2="467.95" y2="798.21" stroke="#000" stroke-width="1.2"/>
<line x1="462.25" y1="795.75" x2="473.65" y2="795.75" stroke="#000" stroke-width="1.2"/>
<rect x="457.10" y="797.21" width="21.70" height="4.99" fill="#000"/>
<line x1="501.50" y1="650.88" x2="501.50" y2="670.94" stroke="#ff0000" stroke-width="1.2"/>
<line x1="495.80" y1="650.88" x2="507.20" y2="650.88" stroke="#ff0000" stroke-width="1.2"/>
<rect x="490.20" y="669.94" width="22.60" height="132.26" fill="#ff0000"/>
<line x1="535.00" y1="690.76" x2="535.00" y2="709.06" stroke="#0000ff" stroke-width="1.2"/>
<line x1="529.30" y1="690.76" x2="540.70" y2="690.76" stroke="#0000ff" stroke-width="1.2"/>
<rect x="524.00" y="708.06" width="22.00" height="94.13" fill="#0000ff"/>
<path d="M446.2 621.2609970674487V802.3994134897362H558" fill="none" stroke="#000" stroke-width="1.8" stroke-linecap="square"/>
<line x1="468.20" y1="629.58" x2="501.40" y2="629.58" stroke="#000" stroke-width="1.6"/>
<text class="fd" x="471.47" y="624.58" font-size="17.5" font-weight="bold" fill="#000" stroke="#000" stroke-width="0.53" stroke-linejoin="round" letter-spacing="0.3">***</text>
<text class="fs" x="0.0" y="0.0" font-size="15.0" text-anchor="middle" font-weight="bold" fill="#000" textLength="125.8" lengthAdjust="spacingAndGlyphs" transform="translate(406.3,711.4) rotate(-90)">Serum IL-6(pg/mL)</text>
<rect x="593.20" y="616.27" width="17.80" height="8.80" fill="#000"/>
<text class="fs" x="621.0" y="625.2" font-size="13.8" text-anchor="start" fill="#000" textLength="88.8" lengthAdjust="spacingAndGlyphs">Group1 Normal</text>
<rect x="593.20" y="640.91" width="17.80" height="8.80" fill="#ff0000"/>
<text class="fs" x="621.0" y="649.9" font-size="13.8" text-anchor="start" fill="#000" textLength="82.4" lengthAdjust="spacingAndGlyphs">Group2 Model</text>
<rect x="593.20" y="664.95" width="17.80" height="8.80" fill="#0000ff"/>
<text class="fs" x="621.0" y="673.9" font-size="13.8" text-anchor="start" fill="#000" textLength="118.2" lengthAdjust="spacingAndGlyphs">Group3 Upadacitinib</text>
<text class="fs" x="864.9" y="582.0" font-size="15.6" text-anchor="middle" font-weight="bold" fill="#000">IL-17A</text>
<line x1="803.10" y1="621.26" x2="810.10" y2="621.26" stroke="#000" stroke-width="1.6"/>
<text class="fa" transform="translate(801.0,626.0) scale(0.9,1)" font-size="14.0" text-anchor="end" font-weight="bold">2000</text>
<line x1="803.10" y1="666.50" x2="810.10" y2="666.50" stroke="#000" stroke-width="1.6"/>
<text class="fa" transform="translate(801.0,671.2) scale(0.9,1)" font-size="14.0" text-anchor="end" font-weight="bold">1500</text>
<line x1="803.10" y1="711.73" x2="810.10" y2="711.73" stroke="#000" stroke-width="1.6"/>
<text class="fa" transform="translate(801.0,716.4) scale(0.9,1)" font-size="14.0" text-anchor="end" font-weight="bold">1000</text>
<line x1="803.10" y1="756.96" x2="810.10" y2="756.96" stroke="#000" stroke-width="1.6"/>
<text class="fa" transform="translate(801.0,761.7) scale(0.9,1)" font-size="14.0" text-anchor="end" font-weight="bold">500</text>
<line x1="803.10" y1="802.20" x2="810.10" y2="802.20" stroke="#000" stroke-width="1.6"/>
<text class="fa" transform="translate(801.0,806.9) scale(0.9,1)" font-size="14.0" text-anchor="end" font-weight="bold">0</text>
<line x1="831.90" y1="695.75" x2="831.90" y2="710.24" stroke="#000" stroke-width="1.2"/>
<line x1="826.20" y1="695.75" x2="837.60" y2="695.75" stroke="#000" stroke-width="1.2"/>
<rect x="820.90" y="709.24" width="22.00" height="92.96" fill="#000"/>
<line x1="865.00" y1="638.56" x2="865.00" y2="650.12" stroke="#ff0000" stroke-width="1.2"/>
<line x1="859.30" y1="638.56" x2="870.70" y2="638.56" stroke="#ff0000" stroke-width="1.2"/>
<rect x="854.00" y="649.12" width="22.00" height="153.08" fill="#ff0000"/>
<line x1="898.05" y1="694.57" x2="898.05" y2="708.18" stroke="#0000ff" stroke-width="1.2"/>
<line x1="892.35" y1="694.57" x2="903.75" y2="694.57" stroke="#0000ff" stroke-width="1.2"/>
<rect x="887.20" y="707.18" width="21.70" height="95.01" fill="#0000ff"/>
<path d="M810.1 621.2609970674487V802.3994134897362H920.9" fill="none" stroke="#000" stroke-width="1.8" stroke-linecap="square"/>
<line x1="832.00" y1="617.85" x2="864.90" y2="617.85" stroke="#000" stroke-width="1.6"/>
<line x1="871.60" y1="617.85" x2="898.60" y2="617.85" stroke="#000" stroke-width="1.6"/>
<text class="fd" x="839.70" y="612.26" font-size="17.5" font-weight="bold" fill="#000" stroke="#000" stroke-width="0.53" stroke-linejoin="round" letter-spacing="0.3">**</text>
<text class="fd" x="876.10" y="612.26" font-size="17.5" font-weight="bold" fill="#0000ff" stroke="#0000ff" stroke-width="0.53" stroke-linejoin="round" letter-spacing="0.3">**</text>
<text class="fs" x="0.0" y="0.0" font-size="15.0" text-anchor="middle" font-weight="bold" fill="#000" textLength="145.7" lengthAdjust="spacingAndGlyphs" transform="translate(764.8,710.9) rotate(-90)">Serum IL-17A(pg/mL)</text>
<rect x="955.20" y="616.27" width="17.60" height="8.80" fill="#000"/>
<text class="fs" x="982.8" y="625.2" font-size="13.8" text-anchor="start" fill="#000" textLength="87.0" lengthAdjust="spacingAndGlyphs">Group1 Normal</text>
<rect x="955.20" y="640.91" width="17.60" height="8.80" fill="#ff0000"/>
<text class="fs" x="982.8" y="649.9" font-size="13.8" text-anchor="start" fill="#000" textLength="81.0" lengthAdjust="spacingAndGlyphs">Group2 Model</text>
<rect x="955.20" y="664.95" width="17.60" height="8.80" fill="#0000ff"/>
<text class="fs" x="982.8" y="673.9" font-size="13.8" text-anchor="start" fill="#000" textLength="115.8" lengthAdjust="spacingAndGlyphs">Group3 Upadacitinib</text>
<defs>
<filter id="soft" x="-5%" y="-5%" width="110%" height="110%"><feGaussianBlur stdDeviation="0.55"/></filter>
<filter id="soft2" x="-5%" y="-5%" width="110%" height="110%"><feGaussianBlur stdDeviation="0.3"/></filter>
<filter id="blur3" x="-50%" y="-50%" width="200%" height="200%"><feGaussianBlur stdDeviation="14"/></filter>
<filter id="blur6" x="-50%" y="-50%" width="200%" height="200%"><feGaussianBlur stdDeviation="45"/></filter>
<filter id="nzA" x="0" y="0" width="100%" height="100%"><feTurbulence type="fractalNoise" baseFrequency="0.045" numOctaves="3" seed="3"/><feColorMatrix type="matrix" values="0 0 0 0 0.42  0 0 0 0 0.22  0 0 0 0 0.52  2.6 0 0 0 -1.15"/></filter>
<filter id="nzW" x="0" y="0" width="100%" height="100%"><feTurbulence type="fractalNoise" baseFrequency="0.05" numOctaves="3" seed="11"/><feColorMatrix type="matrix" values="0 0 0 0 1  0 0 0 0 0.86  0 0 0 0 0.95  0 2.6 0 0 -1.2"/></filter>
<filter id="nzF" x="0" y="0" width="100%" height="100%"><feTurbulence type="fractalNoise" baseFrequency="0.004 0.05" numOctaves="3" seed="5"/><feColorMatrix type="matrix" values="0 0 0 0 1  0 0 0 0 0.8  0 0 0 0 0.92  1.6 0 0 0 -0.7"/></filter>
<filter id="lace" x="-30%" y="-30%" width="160%" height="160%"><feGaussianBlur in="SourceAlpha" stdDeviation="14" result="b"/><feTurbulence type="fractalNoise" baseFrequency="0.055" numOctaves="3" seed="4" result="t"/><feColorMatrix in="t" type="matrix" values="0 0 0 0 1  0 0 0 0 1  0 0 0 0 1  0 4.2 0 0 -1.85" result="w"/><feComposite in="w" in2="b" operator="in"/></filter>
</defs>
<clipPath id="cp1"><rect x="1124.15" y="555.03" width="170.71" height="89.73"/></clipPath>
<g clip-path="url(#cp1)">
<g filter="url(#soft)"><g transform="translate(1120,550) scale(0.10929)">
<rect x="0" y="0" width="1647" height="915" fill="#db5b9f"/>
<g transform="rotate(62 830 450)"><rect x="-300" y="-500" width="2300" height="2000" fill="#fff" filter="url(#nzF)" opacity="0.1"/></g>
<path d="M545 173h.1M1055 109h.1M876 348h.1M130 464h.1M98 403h.1M149 124h.1M702 724h.1M233 232h.1M1019 822h.1M940 373h.1M1563 88h.1M1379 286h.1M265 146h.1M521 715h.1M322 524h.1M1037 354h.1M894 101h.1M133 218h.1M1101 398h.1M530 527h.1M747 294h.1M1279 620h.1M421 518h.1M859 763h.1M1178 285h.1M1569 146h.1M692 667h.1M277 449h.1M101 595h.1M1233 517h.1M1406 306h.1M1125 534h.1M945 422h.1M1350 820h.1M780 591h.1M135 622h.1M1050 859h.1M1322 282h.1M642 595h.1M75 426h.1M302 145h.1M132 676h.1M242 252h.1M650 760h.1M166 416h.1M897 770h.1M1318 754h.1M474 388h.1M600 771h.1M1534 173h.1M315 239h.1M404 445h.1M959 264h.1M46 391h.1M616 512h.1M1527 613h.1M844 553h.1M1095 94h.1M1443 686h.1M1404 700h.1M652 375h.1M202 567h.1M137 105h.1M366 182h.1M570 93h.1M40 173h.1M198 346h.1M80 763h.1M998 171h.1M434 333h.1M608 150h.1M1364 859h.1M767 444h.1M174 133h.1M575 266h.1M1333 182h.1M76 825h.1M864 169h.1M887 72h.1M864 847h.1M1387 617h.1M447 349h.1M301 679h.1M871 685h.1M554 232h.1M1306 853h.1M1370 707h.1M1317 653h.1M394 472h.1M595 74h.1M84 278h.1M444 614h.1M1532 414h.1M1502 855h.1M1530 347h.1M384 235h.1M347 217h.1M1014 784h.1M1351 441h.1M1059 702h.1M172 588h.1M1459 688h.1M1210 440h.1M318 693h.1M559 703h.1M1556 373h.1M666 822h.1M1171 189h.1M238 173h.1M1452 707h.1M268 724h.1M1569 586h.1M587 497h.1M244 62h.1M1555 579h.1M861 811h.1M717 760h.1M1329 222h.1M433 289h.1M415 528h.1M445 391h.1M244 792h.1M592 423h.1M950 787h.1M696 798h.1M823 483h.1M857 65h.1M727 199h.1M46 701h.1M309 436h.1M1171 504h.1M549 472h.1M906 689h.1M206 507h.1M428 276h.1M1245 464h.1M916 669h.1M1463 411h.1M996 462h.1M839 615h.1M746 485h.1M786 817h.1M1131 764h.1M1510 262h.1M913 819h.1M1350 162h.1M230 410h.1M153 246h.1M154 596h.1M1263 781h.1M281 634h.1M1070 167h.1M1417 839h.1M383 826h.1M661 447h.1M1584 728h.1M292 402h.1M844 326h.1M345 310h.1M1167 66h.1M904 409h.1M68 320h.1M1013 467h.1M140 853h.1M1270 842h.1M203 266h.1M102 685h.1M462 156h.1M699 793h.1M1318 261h.1M273 799h.1M930 621h.1M180 97h.1M1114 397h.1M153 815h.1M1030 703h.1M171 748h.1M144 753h.1M748 326h.1M903 805h.1M458 155h.1M862 244h.1M211 182h.1M119 214h.1M527 299h.1M1225 286h.1M820 195h.1M581 65h.1M431 63h.1M1184 499h.1M336 437h.1M1498 137h.1M1318 402h.1M812 730h.1M653 463h.1M1113 851h.1M575 728h.1M1142 568h.1M671 333h.1M125 156h.1M150 654h.1M439 183h.1M172 736h.1M1398 596h.1M480 247h.1M497 424h.1M286 413h.1M451 834h.1M1557 496h.1M421 837h.1M523 341h.1M42 361h.1M780 460h.1M354 461h.1M48 265h.1M180 376h.1M105 68h.1M515 240h.1M954 481h.1M1211 586h.1M1157 766h.1M648 316h.1M1576 172h.1M1170 574h.1M108 731h.1M1431 561h.1M1185 712h.1M257 477h.1M827 730h.1M1295 724h.1M951 778h.1M1105 615h.1M399 75h.1M248 344h.1M204 731h.1M911 562h.1M1017 605h.1M803 53h.1M1284 660h.1M825 486h.1M1069 104h.1M1189 256h.1M156 266h.1M1178 217h.1M1194 845h.1M811 362h.1M787 607h.1M1236 553h.1M1043 113h.1M270 257h.1M1199 298h.1M926 60h.1M135 269h.1M1088 614h.1M1094 287h.1M846 429h.1M767 147h.1M1434 212h.1M1566 813h.1M67 424h.1" fill="none" stroke="#a24c96" stroke-width="9" stroke-linecap="round" opacity="0.45"/>
<path d="M1165 40 L1240 135 L1300 210 L1380 280 L1440 350 L1485 440 L1510 540 L1535 620 L1575 710 L1596 800 L1605 870 L1660 870 L1660 40Z" fill="#fdfcfd" opacity="1.0"/>
<path d="M150 40 L212 40 L206 130 L198 200 L214 300 L236 400 L262 500 L285 600 L300 700 L296 780 L288 870 L232 870 L226 780 L214 680 L190 560 L160 440 L132 330 L122 260 L150 232 L172 180 L160 100Z" fill="#fff" opacity="1.0"/>
<path d="M240 46 C246 200 270 330 300 480 S 350 760 380 867" fill="none" stroke="#fff" stroke-width="11" stroke-linecap="round" stroke-linejoin="round" opacity="1.0"/>
<path d="M300 250 C310 400 330 560 318 640 L350 760" fill="none" stroke="#fff" stroke-width="9" stroke-linecap="round" stroke-linejoin="round" opacity="1.0"/>
<path d="M340 220 L385 320" fill="none" stroke="#fff" stroke-width="12" stroke-linecap="round" stroke-linejoin="round" opacity="1.0"/>
<path d="M318 600 L350 720" fill="none" stroke="#c42a6c" stroke-width="16" stroke-linecap="round" stroke-linejoin="round" opacity="0.8"/>
<path d="M470 90 C560 200 620 300 650 420 S 700 560 760 600 S 850 700 880 780 L925 867" fill="none" stroke="#fff" stroke-width="13" stroke-linecap="round" stroke-linejoin="round" opacity="1.0"/>
<path d="M440 430 C520 470 600 560 650 640" fill="none" stroke="#fff" stroke-width="5" stroke-linecap="round" stroke-linejoin="round" opacity="0.8"/>
<path d="M370 140 C400 300 440 380 460 400 L440 330" fill="none" stroke="#fff" stroke-width="7" stroke-linecap="round" stroke-linejoin="round" opacity="0.8"/>
<path d="M480 520 L530 550" fill="none" stroke="#fff" stroke-width="14" stroke-linecap="round" stroke-linejoin="round" opacity="1.0"/>
<path d="M540 620 C540 700 560 780 600 790 S 670 800 690 770 L700 867" fill="none" stroke="#fff" stroke-width="9" stroke-linecap="round" stroke-linejoin="round" opacity="1.0"/>
<path d="M590 640 L620 690" fill="none" stroke="#fff" stroke-width="6" stroke-linecap="round" stroke-linejoin="round" opacity="0.8"/>
<path d="M930 46 C1000 160 1060 260 1120 370 S 1260 560 1310 640 S 1370 800 1400 867" fill="none" stroke="#fff" stroke-width="8" stroke-linecap="round" stroke-linejoin="round" opacity="1.0"/>
<path d="M1060 46 C1130 110 1200 190 1260 215 L1330 245" fill="none" stroke="#fff" stroke-width="9" stroke-linecap="round" stroke-linejoin="round" opacity="1.0"/>
<path d="M1330 245 C1380 300 1420 390 1440 440 L1480 470" fill="none" stroke="#fff" stroke-width="6" stroke-linecap="round" stroke-linejoin="round" opacity="0.9"/>
<path d="M890 260 C910 380 980 520 1040 640 S 1100 780 1120 867" fill="none" stroke="#fff" stroke-width="6" stroke-linecap="round" stroke-linejoin="round" opacity="0.9"/>
<path d="M1060 370 C1140 440 1200 480 1290 490 S 1400 540 1450 640 S 1540 740 1590 800" fill="none" stroke="#fff" stroke-width="7" stroke-linecap="round" stroke-linejoin="round" opacity="1.0"/>
<path d="M1200 480 C1240 580 1280 700 1310 760 L1350 867" fill="none" stroke="#fff" stroke-width="9" stroke-linecap="round" stroke-linejoin="round" opacity="1.0"/>
<path d="M1290 490 C1340 600 1400 720 1430 790 L1470 867" fill="none" stroke="#fff" stroke-width="7" stroke-linecap="round" stroke-linejoin="round" opacity="1.0"/>
<path d="M1260 867 L1280 770 L1300 790 L1330 867" fill="none" stroke="#fff" stroke-width="7" stroke-linecap="round" stroke-linejoin="round" opacity="1.0"/>
<path d="M1380 867 L1410 760" fill="none" stroke="#fff" stroke-width="7" stroke-linecap="round" stroke-linejoin="round" opacity="1.0"/>
<path d="M38 575 L90 545 L78 500" fill="none" stroke="#fff" stroke-width="12" stroke-linecap="round" stroke-linejoin="round" opacity="1.0"/>
<path d="M40 400 C70 500 110 640 140 867" fill="none" stroke="#fff" stroke-width="5" stroke-linecap="round" stroke-linejoin="round" opacity="0.85"/>
<path d="M38 790 L70 820 L80 870 L38 870Z" fill="#fff" opacity="1.0"/>
</g></g>
</g>
<clipPath id="cp2"><rect x="1311.03" y="555.03" width="172.02" height="89.73"/></clipPath>
<g clip-path="url(#cp2)">
<g filter="url(#soft)"><g transform="translate(1306,550) scale(0.10929)">
<rect x="0" y="0" width="1647" height="915" fill="#dc5ca0"/>
<g transform="rotate(55 830 450)"><rect x="-200" y="-400" width="2100" height="1800" fill="#fff" filter="url(#nzF)" opacity="0.13"/></g>
<path d="M1333 834l2 6M753 268l7 7M378 816l8 8M380 521l3 5M272 474l6 5M1541 157l4 10M1334 462l6 4M1438 620l9 8M412 777l4 3M811 70l6 4M56 448l2 11M755 295l4 11M270 329l1 7M545 731l9 7M53 658l2 4M1363 147l3 7M1500 628l4 5M1461 285l4 3M633 368l5 5M1613 527l1 5M615 397l1 6M481 89l7 8M209 726l2 7M497 808l7 4M440 265l7 9M850 204l5 5M634 824l1 5M1434 708l6 8M1037 790l1 5M1522 495l4 3M1176 90l1 6M1196 415l3 10M1228 572l4 5M498 90l1 9M1500 153l7 7M789 328l4 5M516 649l9 5M1578 261l1 9M1077 294l1 5M922 369l6 5M312 181l1 11M375 784l4 5M828 228l5 6M1468 857l1 6M754 163l3 9M351 123l2 10M585 124l3 6M424 259l5 5M941 769l1 5M1223 384l8 6M698 475l4 3M640 324l7 4M147 275l8 8M1564 152l2 11M838 560l4 4M1400 225l7 5M474 251l3 7M676 411l6 5M1543 737l4 8M1416 68l3 10M100 625l2 5M1452 433l2 6M969 50l3 6M663 801l2 6M1342 743l5 4M1572 251l9 7M221 175l3 6M868 602l7 9M1523 635l3 5M1063 669l2 9M766 497l0 5M112 684l6 9M414 795l3 11M1060 296l6 3M250 254l5 3M1046 616l1 9M225 107l1 7M871 522l2 8M657 231l7 7M991 58l1 5M522 423l4 8M1551 572l5 5M1433 435l5 4M417 250l6 6M1553 621l2 5M531 68l6 3M830 596l2 5M707 258l4 4M1094 799l2 8M405 78l4 3M579 391l5 7M1118 210l2 5M1297 649l7 6M840 216l4 5M1568 302l8 8" fill="none" stroke="#5c3577" stroke-width="11" stroke-linecap="round" opacity="0.62"/>
<path d="M1188 110h.1M1232 240h.1M124 262h.1M444 118h.1" fill="none" stroke="#2a1540" stroke-width="20" stroke-linecap="round" opacity="0.9"/>
<path d="M650 46 L700 110 L780 270 L800 360 L822 455 L900 545 L960 650 L1030 780 L1100 867" fill="none" stroke="#fff" stroke-width="17" stroke-linecap="round" stroke-linejoin="round" opacity="1.0"/>
<path d="M1312 46 L1380 110 L1500 182 L1540 240 L1625 295" fill="none" stroke="#fff" stroke-width="22" stroke-linecap="round" stroke-linejoin="round" opacity="1.0"/>
<path d="M350 560 L420 650 L480 720" fill="none" stroke="#fff" stroke-width="6" stroke-linecap="round" stroke-linejoin="round" opacity="1.0"/>
<path d="M420 650 L470 710" fill="none" stroke="#4a2a60" stroke-width="5" stroke-linecap="round" stroke-linejoin="round" opacity="0.6"/>
<path d="M46 440 L100 456" fill="none" stroke="#fff" stroke-width="9" stroke-linecap="round" stroke-linejoin="round" opacity="1.0"/>
<path d="M100 456 C200 480 300 540 400 552" fill="none" stroke="#5c3577" stroke-width="6" stroke-linecap="round" stroke-linejoin="round" opacity="0.5"/>
<path d="M1255 160 L1280 230 L1310 290" fill="none" stroke="#fff" stroke-width="5" stroke-linecap="round" stroke-linejoin="round" opacity="0.8"/>
<path d="M1380 400 L1420 560 L1480 660 L1560 780 L1612 862" fill="none" stroke="#fff" stroke-width="6" stroke-linecap="round" stroke-linejoin="round" opacity="0.7"/>
<path d="M1390 450 L1425 570 L1470 650" fill="none" stroke="#4a2a60" stroke-width="6" stroke-linecap="round" stroke-linejoin="round" opacity="0.55"/>
<path d="M140 650 L200 660" fill="none" stroke="#fff" stroke-width="5" stroke-linecap="round" stroke-linejoin="round" opacity="0.6"/>
</g></g>
</g>
<clipPath id="cp3"><rect x="1124.15" y="660.03" width="171.80" height="89.73"/></clipPath>
<g clip-path="url(#cp3)">
<g filter="url(#soft)"><g transform="translate(1120,655) scale(0.10929)">
<rect x="0" y="0" width="1647" height="915" fill="#b467a9"/>
<path d="M1150 20 L1700 20 L1700 760 L1500 800 L1340 770 L1220 700 L1060 640 L930 620 L980 520 L1060 400 L1130 250Z" fill="#e0549c" opacity="1" filter="url(#blur6)"/>
<path d="M1320 30 L1650 30 L1650 600 L1420 640 L1270 500Z" fill="#e6529a" opacity="0.85" filter="url(#blur6)"/>
<path d="M30 30 L480 30 L400 300 L300 480 L100 540 L30 480Z" fill="#b067ab" opacity="0.7" filter="url(#blur6)"/>
<path d="M700 330 L1000 280 L950 500 L800 700 L600 800 L500 600Z" fill="#b160a6" opacity="0.75" filter="url(#blur6)"/>
<path d="M1100 140 L1250 150 L1230 260 L1120 260Z" fill="#a85fa6" opacity="0.6" filter="url(#blur6)"/>
<path d="M740 120 L1000 150 L960 260 L760 250Z" fill="#dba8d3" opacity="0.75" filter="url(#blur6)"/>
<path d="M250 380 L450 300 L520 420 L300 500Z" fill="#cf95c8" opacity="0.5" filter="url(#blur6)"/>
<rect x="38" y="46" width="1580" height="821" filter="url(#nzA)" opacity="0.55"/>
<rect x="38" y="46" width="1580" height="821" filter="url(#nzW)" opacity="0.2"/>
<path d="M500 30 L640 30 L690 150 L680 250 L620 340 L580 480 L540 400 L550 300 L490 240 L510 140Z" fill="#fff" opacity="0.78" filter="url(#lace)"/>
<path d="M280 500 L400 470 L520 520 L520 640 L440 680 L340 640Z" fill="#fff" opacity="0.8" filter="url(#lace)"/>
<path d="M1050 410 L950 510 L870 630 L830 740 L700 880 L820 880 L880 700 L950 580 L1070 440Z" fill="#fff" opacity="0.65" filter="url(#lace)"/>
<path d="M720 150 L980 170 L960 250 L760 250Z" fill="#fff" opacity="0.5" filter="url(#lace)"/>
<path d="M1020 620 L1220 650 L1215 700 L1020 680Z" fill="#fff" opacity="0.7" filter="url(#lace)"/>
<path d="M530 46 L595 46 L625 110 L630 165 L605 210 L570 228 L540 200 L528 180 L550 130 L535 90Z" fill="#fff" opacity="0.85" filter="url(#blur3)"/>
<path d="M720 120 L660 210 L600 260 L560 280 L500 320 L440 340 L380 400" fill="none" stroke="#fff" stroke-width="6" stroke-linecap="round" stroke-linejoin="round" opacity="0.9"/>
<path d="M560 280 L600 340 L580 400 L560 480" fill="none" stroke="#fff" stroke-width="9" stroke-linecap="round" stroke-linejoin="round" opacity="0.85"/>
<path d="M555 285 L570 300" fill="none" stroke="#6a2a60" stroke-width="12" stroke-linecap="round" stroke-linejoin="round" opacity="0.9"/>
<path d="M350 550 L385 540 L420 570 L470 570 L478 610 L450 632 L405 620 L380 598Z" fill="#fff" opacity="0.75" filter="url(#blur3)"/>
<path d="M350 560 L400 600 L450 610 M400 600 L430 640 M480 470 L430 540" fill="none" stroke="#fff" stroke-width="9" stroke-linecap="round" stroke-linejoin="round" opacity="0.85"/>
<path d="M1040 420 L990 470 L940 530 L890 590 L860 650 L840 720 L780 790 L720 867" fill="none" stroke="#fff" stroke-width="15" stroke-linecap="round" stroke-linejoin="round" opacity="1.0"/>
<path d="M860 650 L800 760 L740 867" fill="none" stroke="#fff" stroke-width="8" stroke-linecap="round" stroke-linejoin="round" opacity="0.8"/>
<path d="M880 760 L800 867" fill="none" stroke="#fff" stroke-width="7" stroke-linecap="round" stroke-linejoin="round" opacity="0.7"/>
<path d="M1140 280 L1080 380 L1040 420" fill="none" stroke="#fff" stroke-width="5" stroke-linecap="round" stroke-linejoin="round" opacity="0.6"/>
<path d="M30 545 L70 585 L130 640 L190 690 L225 740 L235 790 L290 870 L30 870Z" fill="#fff" opacity="1.0"/>
<path d="M225 780 L300 840 L340 867" fill="none" stroke="#fff" stroke-width="9" stroke-linecap="round" stroke-linejoin="round" opacity="0.9"/>
<path d="M38 46 L90 46 L60 80 L38 110Z" fill="#fff" opacity="0.6"/>
<path d="M1330 500 C1350 600 1330 700 1300 780" fill="none" stroke="#fff" stroke-width="5" stroke-linecap="round" stroke-linejoin="round" opacity="0.7"/>
<path d="M1600 410 C1520 430 1450 560 1420 700" fill="none" stroke="#fff" stroke-width="5" stroke-linecap="round" stroke-linejoin="round" opacity="0.75"/>
<path d="M1560 420 L1600 470 L1610 520" fill="none" stroke="#fff" stroke-width="6" stroke-linecap="round" stroke-linejoin="round" opacity="0.8"/>
<path d="M1612 520 L1600 640" fill="none" stroke="#fff" stroke-width="10" stroke-linecap="round" stroke-linejoin="round" opacity="0.9"/>
<path d="M1530 520 C1480 600 1450 680 1440 760" fill="none" stroke="#fff" stroke-width="4" stroke-linecap="round" stroke-linejoin="round" opacity="0.6"/>
<path d="M1040 650 L1100 655 M1150 680 L1200 690" fill="none" stroke="#fff" stroke-width="10" stroke-linecap="round" stroke-linejoin="round" opacity="0.85"/>
<path d="M1460 830 L1500 867" fill="none" stroke="#fff" stroke-width="9" stroke-linecap="round" stroke-linejoin="round" opacity="0.8"/>
<path d="M1400 150 C1380 300 1330 400 1300 480" fill="none" stroke="#fff" stroke-width="4" stroke-linecap="round" stroke-linejoin="round" opacity="0.4"/>
</g></g>
</g>
<clipPath id="cp4"><rect x="1311.03" y="660.03" width="172.02" height="89.73"/></clipPath>
<g clip-path="url(#cp4)">
<g filter="url(#soft)"><g transform="translate(1306,655) scale(0.10929)">
<rect x="0" y="0" width="1647" height="915" fill="#d470b2"/>
<path d="M900 100 L1600 200 L1600 700 L1000 800 L800 500Z" fill="#cf67ae" opacity="0.7" filter="url(#blur6)"/>
<path d="M40 500 L300 600 L330 870 L40 870Z" fill="#e083bf" opacity="0.7" filter="url(#blur6)"/>
<path d="M500 560 L800 480 L900 700 L600 860 L420 860Z" fill="#da6fb2" opacity="0.7" filter="url(#blur6)"/>
<rect x="38" y="46" width="1600" height="830" filter="url(#nzW)" opacity="0.35"/>
<path d="M538 511l5 6M619 208l3 3M713 720l2 5M1436 424l-4 7M1478 119l1 7M630 460l2 3M1568 208l-1 9M1530 847l0 7M130 806l2 3M298 691l1 4M334 225l6 5M861 361l4 4M106 734l6 2M990 498l3 3M528 391l3 3M716 587l3 3M736 65l2 4M1274 422l-2 6M791 134l3 4M724 121l0 4M849 79l0 4M851 91l-1 6M641 827l3 8M1395 864l1 4M296 782l4 6M1330 164l-1 5M1494 217l-1 4M842 308l2 5M1116 781l0 5M1281 140l2 7M667 701l6 5M1605 520l-1 5M1250 409l3 6M968 591l2 7M49 74l5 3M1016 401l-1 5M1456 154l-5 7M1074 64l-3 8M605 133l6 6M399 525l2 4M367 558l1 7M258 815l3 6M281 125l8 3M1417 688l1 5M462 55l2 4M931 334l2 7M744 815l5 5M437 788l5 3M883 379l1 7M138 685l4 1M913 818l-1 6M360 545l4 4M1056 714l-0 8M533 293l2 5M1446 689l-1 6M778 655l6 7M402 132l2 8M107 321l2 6M1140 740l-1 5M465 501l3 7M1287 476l-3 7M1057 838l-1 5M1431 59l-2 6M1039 615l2 5M1144 750l-2 8M1187 514l-2 7M380 557l4 2M1480 165l-1 5M214 809l3 2M269 70l7 3M1136 566l3 8M1206 100l2 8M1485 821l0 5M370 138l3 2M1380 713l0 6M1345 564l4 7M369 308l3 2M79 257l2 4M1173 348l1 3M1019 71l4 6M733 681l2 6M1155 488l2 5M314 47l1 5M1246 849l-4 8M336 452l7 4M493 222l7 4M830 136l0 7M1285 562l-0 8M182 775l6 2M414 424l4 4M1234 664l3 7M595 314l3 7M1373 590l-1 7M958 149l-1 8M1439 241l-1 5M289 174l2 5M560 475l4 3M1297 648l-2 9M355 570l4 6M371 365l2 8M674 695l3 5M834 565l0 5M269 542l6 3M1212 791l-1 5M949 661l1 8M1116 573l2 4M539 562l3 5M706 688l-0 9M1037 251l2 8M762 556l1 4M1109 810l-1 4M1076 685l3 5M817 846l5 4M1526 472l-1 9M950 490l3 8M377 608l3 6M606 92l4 4M675 57l3 5M708 619l2 6M463 230l5 5M1525 479l-3 4M1308 368l1 4M1044 431l2 3M402 837l6 6M783 288l2 9M243 731l3 6M1385 266l-1 4M445 396l3 4M50 639l3 3M432 294l3 5M720 569l2 5M1043 58l4 6M1544 585l-3 6M206 163l6 2M1268 330l-3 8M1469 696l-1 3M1366 208l-3 7M881 655l4 7M1435 502l-4 8M415 160l5 4M138 429l4 3M819 455l1 7M783 508l3 6M1369 354l-3 6M1558 108l-4 5M1047 69l-1 3M1120 811l1 6M1591 465l-4 8M1459 74l-2 6M622 436l2 6M1259 219l-2 9M507 726l5 3M839 269l-0 4M567 306l1 4M904 87l1 8M1478 548l1 6M1033 618l3 7M1118 220l1 7M767 672l4 6M1485 584l-4 7M1341 692l-2 4M452 294l3 5M547 400l5 6M1516 91l1 7M952 800l-0 9M68 364l5 1M1522 851l-1 9M695 130l6 6M380 171l5 5M54 607l2 3M249 61l4 3M427 648l4 3M1393 645l-2 6M1035 628l4 7M1175 55l0 4M1070 717l-1 8M536 645l7 6M1401 445l-2 4M625 518l7 5M618 575l1 4M1533 690l-3 7M1153 725l-0 8M992 299l-1 5M1444 355l-4 8M492 47l5 5M1324 758l-2 8M1124 796l0 5M414 544l5 4M778 216l6 6M1228 696l-2 5M1439 474l-2 7M974 201l5 6M330 622l2 5M934 376l3 4M635 133l1 6M1285 174l-1 4M589 472l4 3M811 512l-0 4M446 77l7 4M330 115l7 3M923 761l3 4M1537 793l-3 8M987 372l2 6M1556 257l1 5M1054 831l3 7M665 414l2 8M1566 860l-2 7M107 256l5 2M1064 855l2 5M1111 291l-0 5M1239 133l1 5M451 148l2 7M311 242l4 4M1113 56l-2 8M1445 161l-0 7M1035 417l-1 5M1341 438l1 4M271 228l5 6M1169 500l3 5M1417 265l-3 5M573 184l5 6M547 788l1 6M1098 219l4 6M497 258l3 8M1502 126l-2 5M1457 93l-1 5M508 849l4 5M1316 326l-4 8M390 515l2 6M356 111l1 4M1004 453l-1 7M370 549l2 6M1323 525l-2 3M149 648l4 7M796 762l4 7M339 729l7 4M303 351l4 4M53 473l8 3M858 145l0 4M1331 757l-2 4M825 467l3 5M398 196l5 7M440 717l1 7M198 620l3 2M869 623l4 5M1415 635l-1 6M486 146l1 6M1269 324l1 6M1380 90l2 8M1554 813l-2 6M710 565l2 4M881 103l3 6M841 63l3 8M1438 74l-1 5M464 603l4 2M900 805l3 7M440 473l1 5M1543 282l-3 5M1065 145l1 6M1551 468l1 4M780 484l2 7M241 154l7 5M686 283l1 5M1006 514l4 5M363 629l2 4M909 549l4 5M535 245l7 4M853 361l1 5M421 503l3 4M494 857l4 3M1261 176l-2 6M1417 407l-2 5M657 407l1 7M1209 173l-1 6M601 600l2 4M1384 720l-4 6M794 690l2 7M830 836l4 4M1002 358l4 7M767 640l5 4M661 502l1 8M832 411l1 5M525 165l6 5M1555 214l0 8M1479 55l0 8M860 471l2 8M659 340l-0 6M599 824l0 4M873 127l-0 4M677 507l2 5M1431 838l-2 5M1346 467l2 8M1605 775l-2 7M292 284l3 3M841 200l0 5M1038 541l1 3M1610 569l0 7M694 693l1 7M1133 49l1 7M1372 527l-1 5M356 455l4 5M465 577l2 4M1615 518l-0 5M214 128l5 2M868 722l1 7M1316 97l2 7M1259 311l3 7M603 185l3 3M595 415l4 5M1556 407l0 8M1330 295l-2 5M428 366l3 7M808 697l1 5M319 340l2 9M1575 285l1 5M227 484l4 3M681 100l4 7M1346 334l3 7M347 279l3 2M101 591l2 4M291 626l4 2M470 732l3 3M297 336l4 2M639 833l2 5M1543 460l0 6M759 154l1 7M456 785l6 6M625 248l1 6M381 762l3 4M854 491l5 6M1261 362l-0 4M940 301l-1 8M551 590l6 4M931 343l3 6M513 100l1 5M402 150l4 6M254 273l6 3M1116 591l2 9M695 587l5 5M437 741l4 2M1036 195l2 4M1483 649l-1 4M110 79l2 3M358 295l5 7M108 301l4 1M1174 255l-1 6M1123 333l-2 5M1359 683l0 9M121 247l8 5M1226 117l-2 4M713 810l3 8M1209 727l4 7M759 91l1 8M247 672l3 3M1152 708l-1 4M906 842l0 8M902 251l3 7M609 384l4 6M535 158l7 5M1101 241l2 8M269 508l6 6M226 284l6 4M371 96l6 2M356 622l7 4M224 312l3 5M617 184l0 9M933 135l-1 4M729 202l2 7M1034 814l0 4M442 248l1 6M512 198l4 7M1377 807l1 4M1281 728l-2 5M550 349l4 2M627 729l0 8M1533 452l0 4M294 292l2 7M172 611l3 3M744 842l4 8M109 407l6 1M1392 692l3 8M492 589l7 5M709 324l1 8M305 289l7 3M933 332l2 6M180 312l6 2M1580 836l-2 4M1323 95l-2 5M1005 290l2 4M1546 441l-1 7M90 201l6 6M750 116l2 6M632 523l0 5M880 510l4 4M445 124l3 3M442 448l2 3M403 516l2 6M854 529l-0 7M688 106l2 8M1405 498l1 8M932 682l4 6M1268 93l-1 8M632 58l4 4M381 292l3 7M716 776l-0 4M1417 184l1 4M583 673l2 7M1346 147l-1 8M1206 824l0 7M114 542l3 6M910 705l1 7M1503 600l-1 8M961 139l1 4M220 703l5 4M918 284l2 6M1539 57l-0 6M1306 75l0 6M1334 604l-2 4M665 763l6 4M165 316l5 3M1453 530l-1 5M313 342l3 2M954 364l-1 9M55 521l6 3M117 166l3 2M475 270l2 8M458 513l4 3M1552 861l-3 7M1265 566l0 6M1420 817l1 8M524 673l2 8M847 568l5 5M913 379l-1 7M804 348l2 4M416 333l7 3M57 761l8 2M747 513l1 6M312 100l3 8M532 643l2 4M964 112l1 6M960 857l4 8M480 257l2 4M305 266l5 3M390 374l3 4M995 755l2 8M1424 326l2 7M1053 804l3 8M560 661l1 5M684 603l1 4M136 386l6 4M1032 321l0 5M987 257l3 3M1600 92l-1 4M1186 316l2 7M187 714l3 6M894 529l4 6M1081 540l3 7M1212 258l2 5M1247 683l1 9M1262 848l2 4M254 53l4 2M1078 682l2 5M188 69l3 5M332 818l4 4M281 192l4 8M1496 179l-1 9M831 568l5 7M1306 424l-0 7M1468 135l-0 5M149 576l8 3M1406 95l0 7M1033 230l2 6M459 402l4 3M366 669l6 5M516 862l2 3M1341 278l-1 6M810 777l4 3M1121 537l3 7M958 771l1 5M1612 290l0 5M222 846l5 3M1481 170l-3 7M200 185l5 7M1131 77l-0 4M411 399l4 2M77 859l6 3M1429 145l-3 6M260 398l4 3M1125 167l-3 7M834 138l2 3M827 800l-1 5M1197 270l-1 4M463 103l2 5M847 381l-0 5M617 55l4 3M1074 493l-1 9M1176 374l-0 7M706 845l3 4M653 383l7 6M1617 50l1 7M1504 255l-0 5M639 244l5 7M1476 87l1 4M557 577l3 7M543 844l2 4M1221 747l-1 4M978 863l3 4M1037 656l1 6M1167 369l0 8M1011 602l-1 6M1036 492l5 6M791 638l4 3M796 228l5 5M1506 480l-2 4M876 714l4 7M317 721l2 4M1412 82l-2 8M1356 717l0 4M288 252l3 4M607 705l3 3M759 118l2 4M1615 617l-1 7M282 604l4 4M866 241l0 4M581 359l6 7M362 514l3 8M327 636l3 6M1019 351l-1 7M743 347l4 3M511 381l7 5M1322 335l1 6M957 805l1 4M1575 630l-3 7M1094 316l-1 8M1236 357l1 4M86 533l4 6M773 735l3 5M791 777l5 6M1101 654l1 8M1257 678l1 5M934 91l2 7M1165 442l-2 5M1134 389l-0 6M275 320l3 7M55 858l4 4M459 303l6 6M1398 502l-2 5M707 88l3 3M451 212l1 4M891 353l-0 6M816 525l2 6M921 88l2 6M885 382l6 7M746 767l3 3M729 571l2 7M1404 105l-3 7M1306 455l-2 3M1108 288l3 4M372 129l2 4M1280 827l-0 8M1126 173l3 6M508 237l1 8M548 506l4 5M662 73l6 7M1055 229l-1 7M193 427l6 4M723 603l3 7M1614 817l-1 8M828 809l1 6M809 755l2 8M897 119l2 9M404 805l8 3M989 840l0 6M1532 585l-2 4M570 415l5 6M515 103l1 5M983 425l-2 7M854 126l3 3M254 521l6 2M636 590l3 4M313 819l3 3M1372 763l-4 7M231 430l4 4M889 462l3 6M357 377l7 6M836 777l-1 8M944 612l-0 4M1227 172l2 5M95 369l6 2M506 777l1 8M957 238l-1 5M1280 630l1 3M773 802l2 3M1526 384l-1 5M185 247l4 5M1114 170l0 5M267 209l4 6M1292 440l-1 6M1048 209l1 5M1377 692l2 6M1175 333l-0 5M1566 598l-5 7M1309 531l-3 8M517 835l3 4M411 209l6 5M1125 629l-1 4M1280 698l3 5M1528 724l-0 7M1294 50l3 8M705 543l5 7M574 221l3 4M1375 554l2 9M184 268l5 6M236 607l6 2M1341 197l-2 9M1553 344l-2 3M844 858l4 8M1353 179l-1 9M761 711l2 3M601 129l0 5M1403 468l-1 5M1508 780l-2 8M165 558l3 8M1554 343l0 8M1041 355l4 5M1111 791l-1 5M618 847l4 5M1360 607l2 7M1193 662l-0 4M1449 165l-2 3M954 84l0 5M1222 573l2 4M1246 285l-4 7M708 849l4 7M1313 601l-4 8M1562 629l-1 5M483 179l5 7M1346 698l-2 7M301 652l2 5M537 90l4 7M357 309l7 4M217 260l6 2M653 837l2 4M367 792l2 6M786 505l4 4M1231 272l-0 6M1490 481l1 4M603 818l1 4M429 103l6 5M1232 603l-3 8M1317 137l1 3M1061 840l-1 7M1135 682l1 3M1526 656l-1 5M664 708l3 8M256 324l3 2M1097 520l-0 4M1287 734l2 6M1103 665l-2 5M1460 784l0 6M1010 272l3 5M996 723l0 5M381 230l2 4M612 620l6 4M1366 313l-0 9M1036 160l4 6M139 412l4 4M220 230l6 3M581 318l2 6M389 697l5 6M1367 710l-1 6M94 685l6 2M840 394l2 8M1038 641l-2 6M676 466l3 4M1312 835l-1 8M1598 105l0 7M257 419l2 5M1161 419l-2 6M345 377l4 7M352 650l5 3M736 208l-0 4M356 264l5 4M1150 845l-1 7M1539 801l-4 6M1179 98l2 3M1038 263l4 5M527 82l6 3M762 130l1 4M288 684l2 5M796 721l-0 5M375 253l4 6M1589 405l0 8M257 57l5 1M967 357l3 8M1353 691l-0 4M158 311l6 3M1439 444l-2 4M648 131l1 6M245 210l4 4M968 568l3 9M738 101l-0 9M131 432l4 6M1105 632l2 3M1068 614l-1 7M1343 566l-1 5M1309 77l2 8M424 810l2 3M1104 810l2 5M1493 262l3 9M75 668l4 7M1578 629l2 6M1316 180l3 7M921 720l-0 8M168 91l2 4M504 372l4 2M1323 422l-3 8M1069 216l1 5M601 123l1 4M1383 742l0 3M1256 52l-3 5M865 420l0 8M1364 634l-1 9M1118 744l-1 9M741 626l-0 4M519 332l2 5M478 251l4 4M540 561l0 4M892 839l2 4M882 580l-1 6M1132 840l-1 6M67 260l3 4M1604 191l-1 8M1127 613l-1 8M1231 250l2 8M90 613l4 5M454 838l4 5M976 585l2 3M1140 296l1 4M151 58l7 2M270 139l4 6M1572 610l1 8M1257 192l-2 7M523 382l5 4M746 644l2 4M94 726l8 3M1392 705l-2 9M483 54l4 3M1470 176l-1 4M970 589l3 6M649 581l4 8M397 99l4 6M618 639l3 7M1286 253l0 3M869 138l-1 8M1299 280l1 4M1250 230l2 7M391 361l3 2M416 70l2 3M228 424l5 3M194 143l3 2M320 235l4 3M232 102l5 3M784 815l3 5M159 229l8 2M872 243l0 6M1407 220l2 4M464 805l1 6M1197 107l3 8M546 215l1 4M804 194l2 6M1074 469l3 5M786 654l2 7M414 456l4 6M625 787l2 3M175 224l8 2M737 161l0 9M679 604l6 5M1539 237l1 5M851 825l5 7M1607 556l-4 7M552 380l5 7M1098 65l3 6M301 726l3 4M1002 258l1 4M930 630l-0 5M281 159l5 2M961 774l1 7M415 184l5 7M469 819l2 4M127 797l3 3M74 284l4 2M1568 761l1 5M1074 467l-2 7M430 586l4 2M944 195l1 6M448 240l4 2M871 602l2 7M1213 559l4 7M1104 702l3 6M794 603l2 5M1283 237l-2 5M1554 216l-1 6M1560 785l-5 8M1203 341l-1 6M1253 151l-1 7M384 264l2 9M260 379l2 4M954 338l1 6M734 190l5 6M74 601l7 3M1361 573l-0 6M1156 839l-1 8M1252 293l-4 8M1423 529l-2 5M475 104l3 6M319 617l2 6M408 264l3 3M1600 62l-1 6M1517 842l0 4M574 475l2 3M703 439l4 4M133 115l5 3M460 696l3 5M584 450l3 2M1508 506l-2 9M288 615l5 3M1308 123l1 8M1291 236l0 8M1090 510l3 3M349 524l5 3M1044 244l2 5M713 484l-0 6M95 641l7 6M504 571l3 6M1014 786l-1 5M536 590l8 5M1296 300l-0 7M1181 92l4 7M186 86l6 4M773 208l5 7M844 474l2 4M213 104l2 4M807 253l3 5M395 307l1 4M1167 678l3 7M1020 132l3 5M1048 275l-1 7M1590 793l-2 4M779 554l-0 5M734 116l1 6M194 837l3 6M499 676l3 3M214 104l3 3M883 730l5 7M319 674l5 7M578 147l5 4M1576 142l-1 4M790 831l5 7M500 428l2 6M1201 152l-0 8M579 250l1 7M785 859l6 6M1391 310l1 5M1218 326l3 6M465 346l3 5M601 357l2 4M404 793l3 6M1326 254l1 8M645 735l0 9M1217 602l-2 4M1277 760l1 6M582 251l5 5M403 104l1 4M1213 209l0 9M787 785l-0 6M536 764l5 3M862 443l2 8M1432 592l1 5M101 531l1 3M1175 398l-0 4M607 229l2 6M1608 402l-3 4M1163 809l-1 5M521 316l3 2M1241 759l3 5M1500 216l-3 4M927 164l0 4M1311 394l-0 7M454 273l6 3M854 430l2 5M55 325l4 6M1224 241l2 4M859 190l3 4M1469 212l-2 9M1181 661l-3 8M743 117l6 6M1300 602l-2 6M575 675l0 7M359 178l4 2M1019 295l4 6M390 116l4 7M543 460l3 2M811 822l-1 5M358 532l7 5M312 106l7 3M1568 377l-4 5M715 335l1 3M1193 337l-0 7M1494 376l-3 6M515 501l4 3M1203 825l-0 4M975 602l3 4M1533 497l-3 6M1306 68l1 9M801 453l1 5M1455 333l-2 8M1509 571l-0 6M570 364l4 8M1283 260l-1 4M894 272l1 5M1339 178l-0 7M80 205l6 1M1314 167l1 7M137 263l3 5M913 803l1 5M1502 402l1 6M1223 751l0 5M986 848l-0 6M134 148l4 3M1161 563l-2 8M301 195l1 5M1104 842l4 6M1587 403l2 8M1612 626l-2 5M329 171l5 5M1206 94l2 5M1117 74l-1 7M1291 519l-0 4M1433 539l1 5M1486 506l2 7M322 361l5 7M698 596l3 8M1550 809l-1 6M544 355l4 4M1339 859l-3 6M547 668l5 3M1474 528l1 7M208 273l4 4M1417 409l-4 7M450 646l3 2M384 583l3 6M1617 396l-2 6M1319 669l3 5M790 143l0 7M274 604l4 1M1602 490l-4 5M252 569l7 3M438 715l2 8M1452 74l-2 8M784 636l4 4M586 812l1 5M261 715l8 4M339 457l2 3M304 809l6 3M394 790l2 7M1574 679l-2 3M885 748l1 4M1119 657l1 4M1499 178l-0 4M918 379l1 7M262 432l3 7M468 348l7 4M1245 530l-0 9M1591 161l-1 4M1568 362l-2 4M540 70l1 6M241 279l2 6M932 824l3 7M616 825l2 6M901 754l3 5M613 543l1 5M147 54l6 2M370 463l2 3M1363 595l2 9M1505 861l1 8M1169 47l1 4M717 842l4 8M941 53l-0 4M67 212l5 5M467 769l4 6M555 839l2 4M1590 137l-2 4M472 167l6 6M1610 558l-2 6M611 785l2 6M269 176l5 4M972 704l4 4M837 518l7 6M696 492l0 7M137 393l8 3M426 122l6 5M997 195l0 7M175 318l3 4M1067 394l-1 6M852 815l1 8M289 297l5 3M1478 626l0 4M307 83l3 7M1380 578l-0 7M1030 94l-1 4M574 130l5 6M1174 465l0 6M1100 402l2 4M190 787l3 4M397 373l2 8M573 265l0 5M396 375l3 3M724 174l2 3M203 458l6 6M351 596l2 5M1328 435l2 9M807 150l6 6M224 310l2 4M964 640l-1 7M1141 347l1 6M482 849l3 6M52 121l5 7M1407 569l0 4M1419 635l-3 7M645 597l1 4M1283 756l4 8M937 207l2 6M806 323l-0 5M850 529l1 4M483 459l4 7M705 591l5 5M1154 687l-3 8M438 806l3 8M637 284l2 6M1161 718l-2 8M1197 221l-0 7M609 298l4 4M1234 648l2 8M414 690l2 5M1110 568l-1 4M475 96l5 3M407 323l8 4M1298 651l1 6M627 268l1 6M1412 407l-1 6M540 846l5 7M1448 397l1 6M1262 354l0 4M1467 407l1 6M983 256l-0 6M660 357l7 5M631 671l6 6M1116 559l4 6M1477 238l1 5M950 310l3 7M558 575l3 5M849 146l3 6M536 388l6 6M424 749l3 2M970 356l1 5M1300 711l-1 4M132 358l4 4M739 861l-0 5M773 220l2 5M193 121l4 4M727 463l1 6M312 465l3 4M631 753l3 6M1427 340l-2 7M1014 509l1 4M179 830l4 1M614 376l3 3M1089 592l-0 5M766 729l-0 5M1201 70l1 4M1558 606l1 7M828 434l1 5M453 575l2 7M1011 187l2 7M540 498l2 5M807 552l4 4M532 603l1 6M1017 686l0 4M938 664l-0 8M1074 133l2 5M71 777l4 3M1353 611l1 4M579 67l2 6M150 105l3 8M236 177l4 8M1415 859l-2 3M1322 647l3 8M1010 754l-1 7M436 617l3 5M626 465l2 4M1425 339l-1 5M593 647l7 5M685 477l3 8M1492 433l0 7M1285 208l2 8M602 713l5 5M480 568l3 5M639 521l5 4M446 728l5 7M993 560l2 4M344 129l6 5M848 168l4 6M1410 365l1 4M334 520l3 5M794 487l4 4M839 733l-1 6M1510 210l-1 6M1254 514l0 4M389 687l2 6M1190 233l1 5M1066 351l4 8M125 250l3 5M444 117l3 6M440 292l3 2M631 693l1 4M226 229l2 3M564 135l4 2M1274 864l-1 7M104 667l3 7M1512 368l-1 4M1354 437l-3 5M686 778l0 4M1086 506l-1 6M951 247l3 5M1407 112l2 6M1432 849l1 7M786 154l5 6M1168 644l-0 7M1057 585l-1 5M80 409l4 4M986 322l-1 8M228 646l4 6M1520 67l1 9M626 194l0 9M835 387l4 7M649 403l2 8M1571 310l-3 5M485 136l5 6M753 764l2 6" fill="none" stroke="#4d2f6a" stroke-width="14" stroke-linecap="round" opacity="0.8"/>
<path d="M1421 72h.1M185 770h.1M692 535h.1M1539 463h.1M773 384h.1M1244 492h.1M200 122h.1M1431 757h.1M1225 709h.1M1397 199h.1M855 643h.1M522 758h.1M706 230h.1M1158 343h.1M371 98h.1M112 269h.1M746 237h.1M186 496h.1M1002 196h.1M1154 711h.1M702 278h.1M1419 506h.1M1250 274h.1M636 435h.1M105 830h.1M101 672h.1M1230 52h.1M609 115h.1M591 652h.1M1565 739h.1M1490 781h.1M875 186h.1M392 207h.1M557 676h.1M845 565h.1M1142 379h.1M966 161h.1M1230 59h.1M904 633h.1M797 437h.1M161 465h.1M974 259h.1M411 781h.1M1431 650h.1M1039 138h.1M825 597h.1M1478 557h.1M1335 772h.1M157 733h.1M1308 610h.1M1555 517h.1M1101 375h.1M845 223h.1M1375 741h.1M1130 465h.1M1095 52h.1M1572 215h.1M903 605h.1M53 263h.1M1114 203h.1M547 479h.1M1357 692h.1M1133 325h.1M558 653h.1M258 244h.1M69 83h.1M257 776h.1M1225 698h.1M899 860h.1M655 847h.1M1550 300h.1M1268 598h.1M799 267h.1M671 420h.1M972 777h.1M479 197h.1M1383 801h.1M1586 861h.1M151 251h.1M70 254h.1M1119 173h.1M566 121h.1M120 124h.1M410 437h.1M1417 564h.1M1273 469h.1M821 666h.1M483 470h.1M1178 218h.1M964 522h.1M858 690h.1M234 259h.1M603 449h.1M1617 649h.1M1148 805h.1M1036 833h.1M1427 706h.1M273 708h.1M597 427h.1M323 349h.1M362 325h.1M795 154h.1M693 249h.1M1233 767h.1M461 618h.1M1567 582h.1M127 279h.1M1590 165h.1M1325 661h.1M426 78h.1M174 201h.1M1494 694h.1M1574 177h.1M646 707h.1M576 81h.1M359 275h.1M1385 623h.1M1188 78h.1M451 674h.1M1122 208h.1M1053 616h.1M1366 783h.1M817 73h.1M697 321h.1M394 302h.1M1275 364h.1M1558 546h.1M591 139h.1M683 777h.1M986 202h.1M1156 642h.1M1054 793h.1M1266 57h.1M887 107h.1M1097 758h.1M848 699h.1M1451 817h.1M375 165h.1M925 829h.1M1081 46h.1M226 292h.1M873 71h.1M1111 378h.1M121 194h.1M222 489h.1M1584 626h.1M450 404h.1M642 509h.1M708 856h.1M1205 359h.1M360 553h.1M349 190h.1M751 749h.1M281 114h.1M1000 610h.1M940 841h.1M1336 835h.1M739 389h.1M242 107h.1M319 784h.1M1457 630h.1M430 509h.1M1350 81h.1M580 391h.1M1592 862h.1M1553 831h.1M1027 617h.1M252 423h.1M330 851h.1M259 403h.1M1001 233h.1M1049 806h.1M1171 524h.1M709 55h.1M1297 450h.1M1374 143h.1M66 449h.1M1550 810h.1M113 204h.1M1615 160h.1M76 241h.1M1381 130h.1M126 443h.1M238 246h.1M951 153h.1M371 255h.1M1035 534h.1M1264 481h.1M1098 825h.1M811 161h.1M725 735h.1M1556 522h.1M1580 705h.1M209 803h.1M1499 812h.1M1540 545h.1M984 229h.1M1216 417h.1M926 264h.1M1425 554h.1M1332 405h.1M1438 291h.1M385 52h.1M730 271h.1M878 479h.1M73 152h.1M919 475h.1M873 49h.1M1561 773h.1M1078 463h.1M1119 797h.1M1176 327h.1M1205 359h.1M1468 349h.1M808 734h.1M496 368h.1M1196 385h.1M653 515h.1M1589 528h.1M91 248h.1M1068 189h.1M472 510h.1M861 662h.1M178 585h.1M1241 815h.1M1384 235h.1M55 723h.1M762 455h.1M408 614h.1M491 287h.1M249 231h.1M746 279h.1M1440 105h.1M222 300h.1M726 344h.1M1568 849h.1M1058 155h.1M1437 773h.1M1246 101h.1M553 48h.1M1617 555h.1M719 409h.1M1187 853h.1M1392 375h.1M1547 482h.1M57 479h.1M47 861h.1M1513 59h.1M1280 599h.1M1244 438h.1M1311 452h.1M809 650h.1M573 683h.1M1526 684h.1M599 402h.1M1616 640h.1M1231 392h.1M1391 766h.1M389 456h.1M619 448h.1M646 536h.1M1210 293h.1M628 688h.1M1059 864h.1M653 857h.1M1190 729h.1M707 347h.1M694 742h.1M1603 695h.1M1422 360h.1M1057 413h.1M338 49h.1M951 198h.1M558 262h.1M614 655h.1M914 522h.1M910 791h.1M1570 552h.1M1474 781h.1M61 558h.1M949 728h.1M1375 301h.1M105 134h.1M879 818h.1M501 352h.1M603 596h.1M257 85h.1M299 382h.1M1478 664h.1M966 465h.1M520 379h.1M1563 329h.1M679 218h.1M1289 200h.1M228 445h.1M1064 602h.1M409 295h.1M666 421h.1M770 827h.1M520 446h.1M1182 657h.1M441 537h.1M1521 638h.1M615 110h.1M1263 142h.1M552 486h.1M755 717h.1M1334 254h.1M901 525h.1M1324 414h.1M1392 503h.1M134 320h.1M1047 226h.1M261 189h.1M763 427h.1M877 254h.1M135 170h.1M308 427h.1M1203 765h.1M159 838h.1M1069 667h.1M1449 167h.1M644 256h.1M1134 402h.1M708 845h.1M121 784h.1M1286 535h.1M638 614h.1M1077 65h.1M1245 205h.1M152 493h.1M1201 398h.1M1450 312h.1M1092 610h.1M1310 713h.1M1095 124h.1M485 445h.1M1437 661h.1M115 227h.1M230 574h.1M1223 413h.1M1597 806h.1M170 786h.1M230 587h.1M1232 610h.1M1476 866h.1M1592 704h.1M1344 816h.1M178 352h.1M622 183h.1" fill="none" stroke="#3d2358" stroke-width="12" stroke-linecap="round" opacity="0.75"/>
<path d="M40 40 L215 40 L185 90 L160 150 L120 230 L80 250 L40 260Z" fill="#fff" opacity="0.9"/>
<path d="M30 30 L280 30 L220 160 L180 300 L230 420 L180 580 L100 620 L30 580Z" fill="#fff" opacity="0.75" filter="url(#lace)"/>
<path d="M70 70h.1M110 100h.1M150 60h.1M95 160h.1M60 200h.1" fill="none" stroke="#7a4c98" stroke-width="16" stroke-linecap="round" opacity="0.8"/>
<path d="M60 480 L110 410 L180 380 L200 400 L150 460 L110 520 L70 540Z" fill="#fff" opacity="0.95"/>
<path d="M330 215 L300 300 L240 350 L190 400" fill="none" stroke="#fff" stroke-width="9" stroke-linecap="round" stroke-linejoin="round" opacity="0.85"/>
<path d="M660 400 L600 440 L540 500 L480 560 L450 600" fill="none" stroke="#fff" stroke-width="15" stroke-linecap="round" stroke-linejoin="round" opacity="1.0"/>
<path d="M450 600 L420 680 L390 720 L370 790 L345 867" fill="none" stroke="#fff" stroke-width="9" stroke-linecap="round" stroke-linejoin="round" opacity="0.9"/>
<path d="M400 46 L450 110 L520 150 L600 180" fill="none" stroke="#fff" stroke-width="5" stroke-linecap="round" stroke-linejoin="round" opacity="0.6"/>
<path d="M250 470 L300 530 L260 600 L300 640" fill="none" stroke="#fff" stroke-width="5" stroke-linecap="round" stroke-linejoin="round" opacity="0.6"/>
<path d="M1560 70 L1620 110" fill="none" stroke="#fff" stroke-width="8" stroke-linecap="round" stroke-linejoin="round" opacity="0.6"/>
<path d="M1560 40 L1630 40 L1630 190 L1600 150Z" fill="#e8478f" opacity="0.8"/>
<path d="M1030 720h.1M1440 285h.1M1250 620h.1M740 550h.1M1130 610h.1M620 660h.1" fill="none" stroke="#fff" stroke-width="13" stroke-linecap="round" opacity="0.8"/>
</g></g>
</g>
<clipPath id="cp5"><rect x="1124.15" y="766.12" width="171.80" height="89.73"/></clipPath>
<g clip-path="url(#cp5)">
<g filter="url(#soft)"><g transform="translate(1120,760) scale(0.10929)">
<rect x="0" y="0" width="1647" height="915" fill="#db5a9d"/>
<path d="M20 40 L330 40 L300 250 L340 420 L300 600 L280 880 L20 880Z" fill="#b765ab" opacity="0.95" filter="url(#blur6)"/>
<path d="M20 40 L200 40 L230 300 L250 500 L200 880 L20 880Z" fill="#b062a8" opacity="0.7" filter="url(#blur6)"/>
<path d="M330 40 L650 40 L650 880 L300 880 L340 500Z" fill="#dc64a6" opacity="0.9" filter="url(#blur6)"/>
<rect x="38" y="56" width="620" height="821" filter="url(#nzA)" opacity="0.45"/>
<rect x="38" y="56" width="620" height="821" filter="url(#nzW)" opacity="0.13"/>
<path d="M30 50 L40 50 L50 150 L70 260 L75 340 L95 420 L100 520 L90 560 L110 640 L105 700 L125 780 L130 880 L30 880Z" fill="#fff" opacity="1.0"/>
<path d="M100 560 L150 620 L160 680 M110 700 L180 760 L200 800 L230 860" fill="none" stroke="#fff" stroke-width="7" stroke-linecap="round" stroke-linejoin="round" opacity="0.85"/>
<path d="M70 340 L90 350 M90 540 L120 560" fill="none" stroke="#fff" stroke-width="8" stroke-linecap="round" stroke-linejoin="round" opacity="0.8"/>
<ellipse cx="220" cy="208" rx="19" ry="31" fill="#fff" opacity="1" transform="rotate(-8 220 208)"/>
<ellipse cx="495" cy="286" rx="27" ry="46" fill="#fff" opacity="1" transform="rotate(8 495 286)"/>
<ellipse cx="370" cy="806" rx="41" ry="72" fill="#fff" opacity="1" transform="rotate(10 370 806)"/>
<ellipse cx="120" cy="506" rx="11" ry="22" fill="#fff" opacity="1" transform="rotate(0 120 506)"/>
<ellipse cx="190" cy="70" rx="22" ry="14" fill="#fff" opacity="0.9" transform="rotate(0 190 70)"/>
<ellipse cx="603" cy="282" rx="8" ry="8" fill="#fff" opacity="0.9" transform="rotate(0 603 282)"/>
<path d="M400 100 L410 140 L425 160 M420 190 L425 205" fill="none" stroke="#fff" stroke-width="9" stroke-linecap="round" stroke-linejoin="round" opacity="0.9"/>
<path d="M310 435 L340 470 L360 520 L375 580" fill="none" stroke="#fff" stroke-width="9" stroke-linecap="round" stroke-linejoin="round" opacity="0.9"/>
<path d="M290 470 L320 490" fill="none" stroke="#fff" stroke-width="6" stroke-linecap="round" stroke-linejoin="round" opacity="0.8"/>
<g transform="translate(549,0) scale(0.9935)"><rect x="100" y="40" width="1000" height="860" fill="#d6529b"/>
<g transform="rotate(78 600 450)"><rect x="-300" y="-600" width="1900" height="2100" fill="#fff" filter="url(#nzF)" opacity="0.14"/></g>
<path d="M244 449h.1M204 656h.1M312 827h.1M212 578h.1M721 223h.1M706 510h.1M695 212h.1M563 746h.1M697 260h.1M427 781h.1M160 452h.1M598 413h.1M113 147h.1M910 433h.1M387 430h.1M160 127h.1M897 683h.1M297 320h.1M183 321h.1M605 677h.1M591 755h.1M1058 525h.1M151 170h.1M749 167h.1M964 104h.1M163 877h.1M496 515h.1M676 157h.1M429 362h.1M811 701h.1M770 208h.1M548 811h.1M276 346h.1M695 876h.1M134 627h.1M548 494h.1M908 139h.1M678 320h.1M828 646h.1M505 185h.1M836 635h.1M645 672h.1M1012 260h.1M765 722h.1M363 801h.1M408 844h.1M663 858h.1M950 701h.1M462 436h.1M668 720h.1M506 797h.1M316 487h.1M248 200h.1M386 99h.1M651 569h.1M486 714h.1M629 620h.1M191 330h.1M130 191h.1M917 171h.1M676 370h.1M749 775h.1M898 851h.1M1028 387h.1M1049 685h.1M374 329h.1M607 753h.1M204 791h.1M747 546h.1M497 373h.1M496 647h.1M531 645h.1M942 131h.1M128 832h.1M294 728h.1M495 244h.1M122 411h.1M680 105h.1M121 296h.1M947 675h.1M354 391h.1M506 641h.1M381 351h.1M589 254h.1M518 673h.1M589 106h.1M442 528h.1M330 378h.1M642 359h.1M284 777h.1M172 803h.1M200 514h.1M628 396h.1M705 784h.1M413 109h.1M300 780h.1M679 678h.1M480 326h.1M766 526h.1M978 192h.1M436 627h.1M972 443h.1M858 150h.1M718 330h.1M769 304h.1M288 281h.1M797 644h.1M977 399h.1M172 723h.1M354 649h.1M575 424h.1M139 246h.1M821 437h.1M948 722h.1M617 866h.1M112 389h.1M617 104h.1M938 183h.1M661 282h.1M473 442h.1" fill="none" stroke="#8a3d8a" stroke-width="9" stroke-linecap="round" opacity="0.5"/>
<path d="M105 50 L140 50 L135 200 L125 330 L150 400 L165 440 L150 520 L115 520 L108 420 L100 300Z" fill="#fff" opacity="1.0"/>
<path d="M120 520 L110 700 L95 880" fill="none" stroke="#fff" stroke-width="4" stroke-linecap="round" stroke-linejoin="round" opacity="0.8"/>
<path d="M218 56 L210 200 L190 380 L160 560 L130 720 L105 880" fill="none" stroke="#fff" stroke-width="6" stroke-linecap="round" stroke-linejoin="round" opacity="0.95"/>
<path d="M275 56 L270 200 L250 330 L230 450 L200 600 L165 790 L150 880" fill="none" stroke="#fff" stroke-width="6" stroke-linecap="round" stroke-linejoin="round" opacity="0.95"/>
<path d="M322 50 L345 50 L395 165 L420 60 L425 50 L492 50 L472 200 L466 330 L442 392 L420 382 L410 300 L402 225 L372 232 L342 212 L320 130Z" fill="#fff" opacity="1.0"/>
<path d="M335 60 L400 170 L440 215 M430 56 L410 190" fill="none" stroke="#d8559d" stroke-width="7" stroke-linecap="round" stroke-linejoin="round" opacity="0.9"/>
<path d="M350 260 L365 340 L360 430 L345 520" fill="none" stroke="#8f1f5c" stroke-width="10" stroke-linecap="round" stroke-linejoin="round" opacity="0.5"/>
<path d="M300 620 L335 640 L320 700 L280 770 L250 800 L215 790 L230 740 L260 680Z" fill="#fff" opacity="1.0"/>
<path d="M215 790 L250 800 L200 850 L180 884 L158 884 L180 840Z" fill="#fff" opacity="1.0"/>
<path d="M330 560 L300 640 M360 600 L330 690 L290 800 L250 884" fill="none" stroke="#fff" stroke-width="6" stroke-linecap="round" stroke-linejoin="round" opacity="0.9"/>
<path d="M690 300 L720 320 L650 400 L612 440 L602 520 L612 600 L602 670 L540 720 L490 780 L462 840 L452 884 L400 884 L430 820 L470 750 L530 690 L570 640 L560 560 L570 470 L600 400 L650 340Z" fill="#fff" opacity="1.0"/>
<path d="M690 50 L742 50 L722 180 L702 270 L662 360 L632 382 L660 280 L680 170Z" fill="#fff" opacity="1.0"/>
<path d="M700 290 L760 298 L802 330 L782 380 L742 470 L722 482 L740 400 L760 350 L720 332Z" fill="#fff" opacity="1.0"/>
<path d="M690 370 L740 355 L745 390 L705 450" fill="none" stroke="#e04a86" stroke-width="16" stroke-linecap="round" stroke-linejoin="round" opacity="0.9"/>
<path d="M975 50 L1037 50 L1012 130 L962 200 L932 260 L902 300 L880 290 L910 230 L940 170 L960 110Z" fill="#fff" opacity="1.0"/>
<path d="M915 60 L880 150 L840 250 L815 300" fill="none" stroke="#fff" stroke-width="8" stroke-linecap="round" stroke-linejoin="round" opacity="1.0"/>
<path d="M815 300 L840 310 L860 400 L880 380 L900 330 L930 350 L960 430 L1000 560 L1040 700 L1060 800 L1052 884 L990 884 L1000 800 L985 700 L950 580 L910 480 L880 430 L870 480 L880 560 L870 650 L850 760 L830 884 L770 884 L800 780 L830 670 L850 540 L850 430 L830 360Z" fill="#fff" opacity="1.0"/>
<path d="M1046 60 L1040 180 L1052 300 L1062 390" fill="none" stroke="#fff" stroke-width="8" stroke-linecap="round" stroke-linejoin="round" opacity="1.0"/>
<path d="M900 480 L930 520 L940 640 L925 780 L905 884 L880 884 L895 780 L905 650Z" fill="#d8559d" opacity="1.0"/>
<path d="M510 56 L500 250 L480 420 L468 560" fill="none" stroke="#fff" stroke-width="5" stroke-linecap="round" stroke-linejoin="round" opacity="0.9"/>
<path d="M560 60 L545 300 L510 480 L480 640" fill="none" stroke="#fff" stroke-width="5" stroke-linecap="round" stroke-linejoin="round" opacity="0.85"/>
<path d="M640 56 L620 200 L590 330" fill="none" stroke="#fff" stroke-width="5" stroke-linecap="round" stroke-linejoin="round" opacity="0.8"/>
<path d="M600 690 L580 790 L560 884" fill="none" stroke="#fff" stroke-width="8" stroke-linecap="round" stroke-linejoin="round" opacity="0.95"/>
<path d="M690 560 L710 600 L700 700 L670 800 L650 884 L620 884 L650 780 L680 680Z" fill="#fff" opacity="1.0"/>
<path d="M770 700 L745 800 L730 884" fill="none" stroke="#fff" stroke-width="14" stroke-linecap="round" stroke-linejoin="round" opacity="1.0"/>
<path d="M480 620 L490 700 L530 660 L540 580" fill="none" stroke="#b3195c" stroke-width="10" stroke-linecap="round" stroke-linejoin="round" opacity="0.5"/>
<path d="M430 390h.1M210 765h.1M350 380h.1" fill="none" stroke="#3a1440" stroke-width="16" stroke-linecap="round" opacity="0.8"/></g>
</g></g>
</g>
<clipPath id="cp6"><rect x="1311.03" y="766.12" width="172.02" height="89.73"/></clipPath>
<g clip-path="url(#cp6)">
<g filter="url(#soft)"><g transform="translate(1306,760) scale(0.10929)">
<rect x="0" y="0" width="1647" height="915" fill="#dc5a9f"/>
<path d="M20 30 L560 30 L520 300 L600 500 L700 650 L760 890 L20 890Z" fill="#cd64aa" opacity="0.9" filter="url(#blur6)"/>
<path d="M1300 300 L1650 250 L1650 700 L1500 600Z" fill="#d062a8" opacity="0.7" filter="url(#blur6)"/>
<g transform="rotate(50 830 450)"><rect x="-200" y="-400" width="2100" height="1800" fill="#fff" filter="url(#nzF)" opacity="0.2"/></g>
<path d="M502 197l4 3M213 239l1 6M620 459l4 4M205 527l2 3M451 348l4 5M1442 694l2 7M155 350l5 3M110 588l3 4M223 399l1 5M459 491l3 6M573 439l1 6M324 501l2 3M938 564l3 3M524 682l2 6M550 870l5 3M651 840l1 7M118 786l3 4M80 385l3 4M1459 393l1 7M67 742l1 8M741 81l6 4M47 791l3 3M552 445l2 4M396 586l6 5M208 294l3 2M94 719l4 5M85 538l1 5M62 389l2 3M252 471l2 6M887 327l5 4M871 649l1 5M336 647l5 4M1537 416l2 4M569 785l4 2M241 541l1 4M1207 619l4 6M120 534l2 3M845 295l2 6M440 853l3 7M493 737l4 4M1527 815l4 6M87 417l3 3M149 379l4 5M544 208l1 4M1456 586l2 7M513 424l5 5M528 499l2 6M573 572l2 2M279 354l1 4M69 687l2 7M802 634l1 6M244 645l2 7M1398 391l1 7M1600 522l1 4M208 520l1 3M427 692l6 5M156 246l4 7M680 682l2 2M625 540l6 4M384 657l1 5M642 625l1 3M1610 339l1 4M430 458l4 3M419 657l3 4M453 449l1 4M71 766l1 4M511 823l5 6M898 171l2 6M1486 245l1 5M251 590l4 4M627 641l1 4M1003 399l2 5M369 170l1 6M630 518l1 5M465 190l2 3M289 244l3 3M927 694l5 4M710 415l3 6M459 771l2 7M267 403l3 5M536 257l3 5M454 576l3 3M251 525l4 4M211 638l3 5M473 259l3 7M1489 345l4 7M393 438l4 4M526 553l2 5M114 153l2 3M279 504l0 3M86 649l1 5M1387 521l3 3M1550 102l1 5M1499 221l2 4M669 780l2 5M349 631l2 3M577 508l5 3M48 93l5 3M717 740l5 5M136 550l2 2M1549 798l4 3M662 689l3 6M1491 412l2 7M309 281l2 3M457 792l2 4M944 304l2 3M232 736l3 3M215 206l3 7M348 525l4 4M385 776l3 6M51 64l3 3M93 514l2 4M386 744l3 5M625 502l4 7M652 644l3 3M412 138l5 6M314 288l1 3M381 129l3 3M110 397l2 6M226 677l5 4M463 669l1 7M399 84l5 5M233 262l5 5M126 393l4 3M54 277l5 5M1446 538l2 5M159 102l2 4M1333 58l2 3M449 451l3 7M207 597l3 4M353 260l2 4M973 553l1 4M131 472l3 5M254 587l1 4M1443 376l5 4M368 787l6 4M182 291l6 4M882 273l1 5M136 311l1 7M701 234l2 4M1408 604l3 2M786 772l5 4M351 144l3 7M1616 730l3 4M865 161l1 7M587 349l0 3M426 251l1 5M353 457l1 4M973 65l3 6M180 665l2 6M109 829l6 4M1270 661l6 4M579 365l3 5M1597 627l5 4M528 712l1 4M1565 619l1 5M668 635l1 4M1531 670l3 3M484 93l3 2M719 380l4 3M604 800l2 3M583 589l1 6M343 782l2 4M419 715l4 6M377 623l3 4M210 373l1 5M1601 372l1 3M1576 648l1 3M673 241l2 2M789 582l1 7M588 603l1 5M683 370l5 3M379 566l1 6M264 857l7 4M622 499l1 6M564 357l6 3M229 442l1 3M309 487l2 2M710 862l5 3M59 523l1 4M429 706l3 3M485 519l4 4M253 658l5 5M458 146l4 2M216 620l2 5M1156 100l4 3M1412 479l5 5M1576 700l4 4M539 242l2 5M475 211l5 3M643 516l3 2M1513 745l1 4M1353 583l0 4M640 629l3 2M50 712l2 7M832 418l3 3M432 689l4 5M75 308l4 4M480 293l2 4M1441 720l5 4M1094 79l1 3M631 577l4 6M114 757l3 6M132 126l0 4M496 531l2 3M496 479l1 6M46 814l1 6M462 582l4 5M1375 856l4 4M846 855l3 6M464 646l5 4M534 424l3 5M200 801l5 3M672 606l5 3M186 472l1 5M247 392l4 5M110 685l4 7M146 367l1 6M413 277l2 2M403 718l2 4M1485 764l2 6M298 807l1 3M505 714l3 4M435 621l3 3M269 755l1 5M430 407l2 3M59 583l3 5M372 167l4 3M1610 849l4 4M1460 622l6 4M254 795l5 6M887 798l6 3M575 436l1 5M448 361l4 5M1067 458l3 3M300 403l1 6M48 337l3 4M315 282l2 6M152 768l3 3M318 139l2 3M596 467l2 3M605 471l2 4M249 574l3 3M270 64l3 3M326 285l1 5M570 728l2 4M169 634l1 6M132 426l5 4M1209 719l7 4M463 640l1 4M1403 691l4 6M316 596l2 6M141 790l2 3M109 76l2 5M1379 373l3 2M251 222l4 6M266 778l4 4M702 367l6 4M395 868l1 4M708 773l2 6M1396 652l4 6M497 377l4 2M1584 833l6 4M524 253l1 4M332 685l2 5M581 854l2 4M152 612l3 5M91 827l3 3M1485 667l5 4M1448 601l1 4M159 589l2 4M422 96l3 2M485 712l6 3M1059 553l4 3M1350 813l2 3M341 127l2 5M1576 316l5 4M1273 308l3 7M377 839l5 5M96 862l2 5M336 787l4 2M1048 79l2 3M1293 67l6 4M156 534l5 3M1484 854l4 4M620 708l3 3M449 650l2 4M267 198l1 5M54 345l5 4M456 709l5 4M1091 385l2 7M212 592l3 6M181 147l2 7M506 518l3 7M469 790l2 5M348 540l5 5M148 237l1 5M58 77l1 7M1408 765l2 4M83 760l3 3M589 631l2 5M564 179l3 2M1167 799l1 4M397 487l4 3M230 400l4 3M264 498l5 5M1448 346l3 5M323 256l2 3M1448 401l2 7M528 267l5 3M596 569l2 7M226 697l1 7M133 751l1 4M445 384l1 8M473 260l3 7M951 459l4 3M368 278l4 3M1171 241l1 6M626 191l3 4M1485 493l4 3M457 365l4 4M685 716l2 4M524 381l2 4M687 763l3 4M1571 343l2 7M365 193l3 6M522 399l3 3M1400 461l3 3M140 529l2 7M894 440l2 4M552 397l5 4M1317 418l2 3M792 178l1 7M126 368l1 8M47 168l2 7M1548 624l0 4M125 177l4 4M1615 494l2 3M333 640l5 5M366 251l1 5M374 241l1 7M420 600l1 4M465 400l4 5M127 130l2 7M1445 560l5 4M131 184l4 2M373 328l5 3M113 625l5 4M504 125l4 5M1520 438l5 6M1159 240l3 2M80 814l3 5M1436 842l1 3M1573 281l3 3M474 873l4 6M601 452l2 4M412 477l4 5M1164 61l2 3M269 541l2 2M647 642l2 3M407 286l3 3M1405 809l1 3M454 137l3 2M654 646l3 4M976 175l1 6M272 286l3 3M553 302l3 6M70 593l5 4M1046 95l5 6M670 619l0 4M376 152l2 6M1535 298l3 4M601 732l1 5M62 108l3 5M426 761l6 3M1386 457l6 4M200 419l5 3M288 110l5 4M178 664l3 6M1295 203l2 7M1588 705l3 2M341 597l4 6M732 179l2 3M52 347l2 4M364 193l6 4M1537 442l4 6M999 781l4 3M1288 153l6 4M237 353l3 5M463 60l4 3M428 875l4 5M509 399l6 5M1460 787l4 4M260 451l3 4M771 434l3 2M285 466l1 8M524 100l2 3M392 493l3 3M68 465l4 2M123 801l3 3M827 68l1 6M236 821l0 4M435 540l6 4M434 830l2 7M1430 794l4 5M295 580l5 4M1611 602l2 5M229 877l2 5M1046 502l3 4M460 182l3 6M101 221l4 4M661 680l2 3M371 486l1 3M541 226l1 3M424 336l5 4M372 88l3 4M1485 315l4 6M1439 641l2 4M1368 825l1 4M507 108l5 4M164 431l2 7M316 439l4 5M1041 108l3 3M407 339l1 7M1036 450l1 6M1529 633l2 4M464 634l5 6M1164 688l2 7M369 579l4 3M458 518l1 7M589 589l2 7M1131 311l5 4M394 791l4 3M348 530l4 2M1610 563l4 3M534 148l2 6M453 737l1 7M416 79l3 3M190 795l3 3M1447 685l2 7M488 187l2 6M881 121l3 3M257 780l1 3M490 616l0 4M1576 624l5 4M264 143l1 4M1521 704l1 5M770 350l5 3M390 209l5 4M131 676l3 6M420 301l1 7M398 268l3 6M598 441l1 7M1559 448l4 6M92 322l0 4M64 417l5 4M467 782l3 4M226 539l2 3M130 300l4 5M715 524l2 6M900 873l3 2M146 544l4 6M404 876l5 5M507 355l3 3M443 167l1 4M1203 351l1 5M1582 787l5 3M739 414l2 3M398 781l3 4M416 141l4 6M545 732l5 6M836 473l5 5M313 777l5 4M195 179l2 7M254 314l6 3M162 128l6 5M561 199l5 5M542 334l6 5M1295 131l2 3M366 748l1 7M69 727l2 5M167 546l5 4M1369 749l1 6M274 477l1 3M106 634l3 4M641 191l3 5M1469 652l1 3M1397 307l3 3M396 466l3 3M516 101l3 3M565 770l4 6M280 688l6 5M552 160l3 7M810 332l1 7M467 829l1 4M1543 465l2 4M143 406l3 3M120 854l1 3M1575 501l6 4M1134 141l1 3M239 631l2 2M348 490l4 7M1524 774l5 4M773 826l4 5M216 621l3 6M131 194l6 4M293 810l1 3M403 872l6 3M310 737l1 5M200 113l1 6M391 683l2 3M285 243l3 4M456 660l3 4M542 507l1 5M286 750l3 2M1270 131l1 5M1515 406l5 5M1052 873l0 5M509 602l4 3M73 560l6 4M444 586l2 4M382 640l3 6M133 785l0 4M1531 850l4 5M363 498l3 4M175 495l3 4M1418 457l2 4M641 282l3 4M468 515l1 4M243 570l2 3M1402 280l0 3M910 71l5 6M361 710l1 4M184 189l2 5M307 713l3 2M1419 661l4 2M1257 643l5 6M1529 296l1 6M149 757l2 5M201 469l1 5M300 292l2 4M436 117l3 3M222 171l3 3M271 104l1 3M78 656l4 4M66 179l2 7M272 593l4 5M356 868l6 4M423 370l3 6M761 171l4 3M70 804l5 5M283 144l1 4M142 459l0 4M358 211l5 3M296 823l4 6M525 114l6 4M1361 425l2 4M399 711l5 4M330 571l4 2M974 88l4 3M1579 528l1 7M701 731l3 5M402 605l3 6M602 715l2 7M249 388l1 5M1397 786l1 4M528 169l5 4M1362 605l6 4M401 614l1 7M225 602l4 4M105 188l4 3M1136 165l1 4M1348 592l4 3M666 863l3 3M128 454l2 2M517 748l2 5M358 192l2 4M294 499l1 7M160 742l2 4M427 795l1 5M150 95l3 5M1534 794l5 3M121 577l6 4M644 649l1 3M967 562l5 4M400 267l2 4M1047 176l3 3M312 396l2 3M219 820l3 2M497 77l4 2M641 728l4 3M563 216l4 7M942 95l2 6M412 237l3 6M415 187l1 3M109 685l2 3M465 62l2 4M258 264l2 3M1383 750l0 4M134 249l4 3M228 167l3 3M125 298l2 5M427 474l7 4M71 653l6 4M94 787l0 6M206 845l1 3M1046 230l5 4M100 528l1 3M588 769l2 2M232 630l2 6M1069 102l4 4M518 409l2 4M227 623l2 3M443 536l3 7M564 720l4 3M514 280l3 6M295 218l1 4M791 780l1 4M601 480l2 5M54 123l3 6M533 336l4 3M372 461l2 2M876 325l1 4M507 103l3 2M643 795l2 6M635 449l4 4M428 254l4 4M352 802l4 2M953 301l1 5M397 853l2 6M75 210l3 5M158 718l2 5M556 565l1 4M1242 629l4 3M291 317l2 5M97 598l5 3M350 284l1 4M181 760l2 4M1493 643l3 6M495 763l3 3M344 877l5 6M652 774l4 2M186 184l4 3M532 633l2 5M1165 290l2 4M990 162l3 6M376 850l2 2M397 358l1 5M428 86l1 6M67 482l3 3M267 415l1 7M283 222l1 3M319 181l3 4M1521 793l4 3M948 394l2 3M442 590l4 6M1555 290l1 7M1540 170l3 3M115 362l4 6M403 344l3 2M1102 646l1 3M275 731l4 7M165 610l1 3M1368 748l5 5M180 132l1 3M503 499l3 4M337 872l3 2M1478 829l3 4M291 124l1 5M605 654l1 3M681 664l2 3M1378 874l4 2M665 854l2 6M648 602l5 5M594 812l3 7M319 462l1 3M117 724l2 7M921 767l1 6M307 510l6 4M159 786l4 5M563 254l1 4M483 502l6 4M235 628l1 3M1539 389l4 6M518 86l2 5M344 503l0 3M89 779l2 3M509 706l1 6M230 528l5 5M363 869l1 5M523 162l0 4M346 676l3 7M392 694l5 4M74 436l2 7M302 371l3 3M127 640l4 3M396 413l1 4M418 60l1 4M906 632l3 5M539 123l2 7M82 504l3 4M1558 318l2 6M459 798l1 4M523 241l1 7M631 763l2 4M244 430l1 3M286 485l2 5M382 204l2 6M268 66l3 3M1297 633l2 3M566 309l4 4M695 642l6 5M111 241l2 4M275 558l3 3M191 121l2 3M110 225l5 6M981 566l1 7M162 653l1 6M220 385l1 6M201 718l2 3M1600 812l3 7M50 363l1 8M1564 419l4 5M645 554l0 6M1483 839l2 7M56 314l4 6M1496 672l5 5M402 289l2 3M174 217l2 7M1351 434l2 5M472 839l5 5M1414 582l2 6M1273 128l1 3M1383 625l2 7M524 204l3 2M440 721l1 4M432 401l4 6M138 876l4 3M1501 729l6 4M291 251l1 5M1220 692l1 4M1321 707l2 7M401 656l1 3M895 786l4 4M455 729l1 5M397 523l2 5M341 338l2 4M185 312l5 5M561 472l2 4M1383 299l3 3M184 783l2 3M316 131l3 4M1255 126l3 4M174 232l6 4M412 107l5 5M101 57l1 5M810 127l4 5M415 340l1 6M728 288l1 3M88 779l4 4M371 148l2 4M570 711l2 7M414 451l4 4M354 424l4 3M751 869l3 6M248 810l5 4M346 435l3 6M697 850l5 3M120 464l5 4M215 162l2 4M1295 80l1 7M158 681l3 3M165 694l1 4M524 319l1 4M1449 737l1 5M279 293l2 4M546 274l1 3M1404 455l3 4M326 584l3 6M199 732l4 6M429 724l5 4M467 541l3 3M463 123l3 4M390 187l3 4M65 803l2 7M688 748l4 5M1511 796l1 3M485 397l2 7M783 353l2 5M652 816l1 8M134 588l2 3M258 324l2 3M445 144l3 5M544 548l2 2M84 344l3 5M338 354l4 6M297 756l1 8M1560 547l3 4M237 794l2 4M306 490l1 7M825 686l1 5M529 677l3 5M1150 625l3 2M522 466l3 7M94 221l4 2M684 832l3 4M361 766l3 3M670 701l2 2M679 696l2 2M600 695l1 6M650 616l2 4M355 766l2 4M782 638l2 7M840 743l4 4M1179 288l5 6M311 421l2 2M997 609l6 5M1380 361l3 6M1514 727l4 5M338 539l3 4M309 399l3 6M650 849l1 6M97 582l1 4M1236 411l6 5M650 515l4 3M408 333l4 4M457 284l5 5M275 182l6 4M886 170l1 5M188 437l2 6M1358 114l4 4M196 354l4 3M331 241l3 2M434 299l1 5M587 541l1 5M1193 286l4 4M690 833l5 6M126 867l3 2M1537 669l4 4M1064 153l2 3M250 303l3 6M895 131l2 4M1611 809l2 4M397 688l4 2M1388 484l4 5M823 68l4 6M256 693l4 3M492 854l5 4M104 286l4 4M128 619l3 6M327 394l2 4M443 550l1 5M584 276l4 3M550 318l2 3M614 868l5 3M380 749l2 4M566 711l2 4M211 62l2 6M447 220l4 6M79 139l3 4M514 418l4 2M63 550l2 6M747 210l3 4M390 704l1 3M529 361l4 6M325 360l3 2M149 307l3 5M995 274l3 4M945 183l1 8M547 688l0 4M1035 84l3 3M338 238l1 6M75 748l2 3M845 531l2 7M609 476l3 3M1229 412l6 3M319 299l3 3M139 311l1 6M145 349l2 3M1429 518l1 5M350 622l2 6M1015 377l5 6M280 704l3 3M1273 563l2 2M585 549l4 6M255 877l2 4M403 82l5 5M1138 742l1 4M324 446l3 3M249 172l1 5M720 166l2 6M196 633l2 5M589 717l5 3M704 822l5 5M281 450l3 6M153 745l3 7M557 503l2 7M333 784l1 4M315 207l1 4M71 413l2 5" fill="none" stroke="#4d2f6a" stroke-width="14" stroke-linecap="round" opacity="0.8"/>
<path d="M950 133h.1M248 137h.1M1478 343h.1M949 627h.1M1577 81h.1M973 782h.1M512 75h.1M290 220h.1M728 460h.1M1462 138h.1M398 196h.1M665 738h.1M1544 728h.1M189 113h.1M548 807h.1M358 237h.1M99 629h.1M403 545h.1M1465 790h.1M377 65h.1M164 304h.1M179 106h.1M184 358h.1M377 234h.1M423 820h.1M1457 485h.1M165 746h.1M705 785h.1M541 679h.1M1098 246h.1M569 277h.1M602 385h.1M262 286h.1M488 790h.1M1445 727h.1M381 96h.1M485 379h.1M504 649h.1M496 724h.1M221 302h.1M1123 401h.1M311 342h.1M127 92h.1M723 767h.1M1309 138h.1M305 648h.1M1487 555h.1M592 359h.1M317 396h.1M883 654h.1M413 123h.1M301 871h.1M352 573h.1M660 615h.1M539 313h.1M217 642h.1M66 242h.1M63 800h.1M326 734h.1M430 560h.1M154 509h.1M119 293h.1M1090 576h.1M387 732h.1M520 463h.1M543 623h.1M339 378h.1M595 860h.1M677 732h.1M1525 552h.1M381 717h.1M1510 409h.1M62 360h.1M598 570h.1M548 453h.1M110 319h.1M482 349h.1M623 618h.1M493 643h.1M1314 801h.1M581 290h.1M612 486h.1M373 556h.1M408 130h.1M294 281h.1M263 207h.1M752 405h.1M1596 383h.1M246 177h.1M158 506h.1M1223 104h.1M363 771h.1M145 255h.1M1364 290h.1M349 768h.1M665 850h.1M1359 301h.1M1494 698h.1M1264 151h.1M948 308h.1M308 114h.1M902 87h.1M257 480h.1M354 802h.1M1564 262h.1M514 718h.1M63 451h.1M308 771h.1M347 291h.1M621 430h.1M108 850h.1M598 860h.1M192 770h.1M1067 301h.1M391 686h.1M217 162h.1M391 75h.1M467 428h.1M113 679h.1M489 828h.1M1559 289h.1M530 492h.1M679 302h.1M1033 146h.1M635 218h.1M1251 460h.1M731 230h.1M436 100h.1M343 749h.1M478 351h.1M82 738h.1M542 338h.1M462 632h.1M525 700h.1M390 578h.1M122 703h.1M519 702h.1M1491 331h.1M1363 589h.1M318 93h.1M683 663h.1M1531 685h.1M124 713h.1M583 717h.1M556 874h.1M1545 667h.1M1507 358h.1M722 858h.1M1163 273h.1M1444 497h.1M1283 141h.1M258 257h.1M754 202h.1M50 80h.1M455 561h.1M237 817h.1M560 789h.1M221 554h.1M108 781h.1M172 831h.1M395 304h.1M1592 162h.1M1412 808h.1M1253 355h.1M804 511h.1M192 292h.1M1263 599h.1M1596 743h.1M448 473h.1M257 557h.1M327 563h.1M380 759h.1M474 628h.1M191 500h.1M1122 325h.1M1143 319h.1M115 836h.1M266 108h.1M845 532h.1M55 568h.1M879 177h.1M611 753h.1M425 58h.1M358 583h.1M271 467h.1M1268 495h.1M1490 538h.1M48 683h.1M568 286h.1M1438 514h.1M155 538h.1M601 632h.1M995 780h.1M208 214h.1M293 496h.1M225 525h.1M1111 518h.1M387 620h.1M1332 323h.1M1321 614h.1M1526 436h.1M170 178h.1M607 703h.1M184 274h.1M1132 698h.1M690 443h.1M1223 354h.1M279 392h.1M1395 612h.1M130 673h.1M1396 310h.1M455 69h.1M677 734h.1M526 248h.1M92 72h.1M368 741h.1M929 116h.1M613 589h.1M130 246h.1M591 526h.1M1211 573h.1M605 581h.1M1473 656h.1M1551 850h.1M467 755h.1M1473 659h.1M1346 80h.1M601 782h.1M1013 558h.1M331 309h.1M343 438h.1M337 491h.1M263 167h.1M165 853h.1M455 195h.1M179 582h.1M245 161h.1M282 299h.1M446 546h.1M1067 165h.1M251 822h.1M440 315h.1M166 735h.1M715 773h.1M862 227h.1M490 381h.1M1458 293h.1M1378 390h.1M64 724h.1M1425 186h.1" fill="none" stroke="#3d2358" stroke-width="12" stroke-linecap="round" opacity="0.75"/>
<path d="M1395 50 L1595 50 L1590 120 L1575 200 L1540 250 L1490 290 L1450 305 L1425 280 L1405 220 L1385 140Z" fill="#fff" opacity="1.0"/>
<path d="M735 720 C740 690 800 680 810 720 C860 730 850 790 810 800 C770 810 730 790 735 720Z" fill="#fff" opacity="1.0"/>
<ellipse cx="920" cy="830" rx="26" ry="44" fill="#fff" opacity="1" transform="rotate(-15 920 830)"/>
<ellipse cx="660" cy="862" rx="20" ry="20" fill="#fff" opacity="1" transform="rotate(0 660 862)"/>
<ellipse cx="770" cy="850" rx="14" ry="16" fill="#fff" opacity="1" transform="rotate(0 770 850)"/>
<ellipse cx="820" cy="860" rx="14" ry="14" fill="#fff" opacity="1" transform="rotate(0 820 860)"/>
<path d="M590 260 C610 310 650 340 690 360" fill="none" stroke="#fff" stroke-width="9" stroke-linecap="round" stroke-linejoin="round" opacity="0.8"/>
<path d="M600 250 C640 250 660 290 650 310" fill="none" stroke="#fff" stroke-width="7" stroke-linecap="round" stroke-linejoin="round" opacity="0.7"/>
<path d="M700 440 C720 480 750 480 760 460" fill="none" stroke="#fff" stroke-width="8" stroke-linecap="round" stroke-linejoin="round" opacity="0.5"/>
<path d="M1100 480 L1140 500 M520 100 L525 140 M1590 310 L1600 330" fill="none" stroke="#fff" stroke-width="8" stroke-linecap="round" stroke-linejoin="round" opacity="0.6"/>
</g></g>
</g>
</svg>
<div class="cap" style="left:227px;top:469px">Fig 1 Body Weight</div>
<div class="cap" style="left:816px;top:469px">Fig 2 Muscle Strength</div>
<div class="cap" style="left:1309px;top:469px">Fig 3 HE Score</div>
<div class="cap" style="left:505px;top:853px">Fig 4 Inflammatory Cytokine</div>
<div class="cap" style="left:1304.5px;top:880px">Fig 5 Typical pathological images</div>
<div class="cap" style="left:1209.7px;top:520px">10×</div>
<div class="cap" style="left:1396.7px;top:520px">40×</div>
<div class="lab" style="left:1499px;top:562.6px">Normal</div>
<div class="lab" style="left:1499px;top:667.6px">Model</div>
<div class="lab" style="left:1499px;top:773px">Upadacitinib</div>
</body></html>
